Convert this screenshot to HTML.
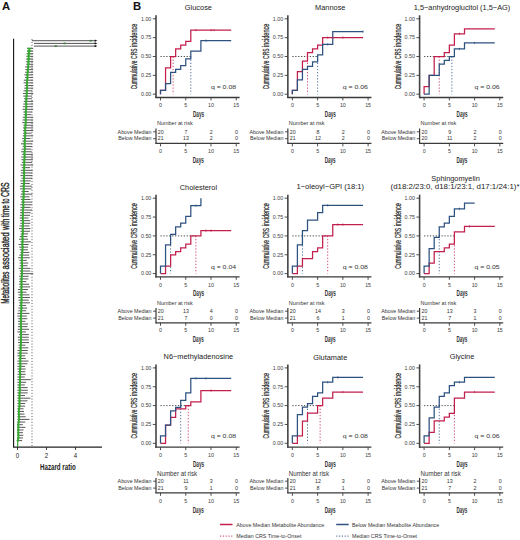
<!DOCTYPE html><html><head><meta charset="utf-8"><style>html,body{margin:0;padding:0;background:#fff;}svg{display:block;}text{font-family:"Liberation Sans", sans-serif;}</style></head><body>
<svg width="520" height="540" viewBox="0 0 520 540">
<rect width="520" height="540" fill="#fff"/>
<text x="1.90" y="9.90" font-size="11.3" text-anchor="start" fill="#111" font-weight="bold">A</text>
<text x="133.00" y="9.90" font-size="11.3" text-anchor="start" fill="#111" font-weight="bold">B</text>
<path d="M27.09,48.40H33.20M27.10,51.05H33.20M26.67,53.70H33.20M26.27,56.35H33.20M26.04,59.00H33.20M26.13,61.65H33.20M26.19,64.30H33.20M25.08,66.95H33.20M25.29,69.60H33.20M25.19,72.25H33.20M24.38,74.90H33.20M25.00,77.55H33.20M23.78,80.20H33.13M23.62,82.85H33.20M24.66,85.50H33.20M24.13,88.15H33.20M23.59,90.80H32.37M23.01,93.45H33.20M23.34,96.10H31.95M24.10,98.75H31.86M23.75,101.40H33.06M23.26,104.05H33.20M22.86,106.70H32.81M22.45,109.35H33.20M23.41,112.00H32.03M23.51,114.65H31.25M22.73,117.30H33.20M22.63,119.95H33.20M22.23,122.60H33.20M23.29,125.25H33.20M22.98,127.90H33.20M22.95,130.55H33.20M23.05,133.20H31.51M22.85,135.85H33.20M22.16,138.50H30.54M22.40,141.15H33.20M20.90,143.80H31.87M22.81,146.45H32.10M21.72,149.10H31.14M21.10,151.75H31.73M22.11,154.40H32.86M21.31,157.05H33.12M21.38,159.70H32.87M21.81,162.35H32.11M20.62,165.00H33.20M21.78,167.65H30.14M20.89,170.30H32.66M20.93,172.95H32.34M20.51,175.60H32.30M21.65,178.25H32.13M20.34,180.90H30.67M20.80,183.55H29.78M19.93,186.20H31.77M20.13,188.85H31.49M21.42,191.50H28.67M20.70,194.15H32.33M20.22,196.80H29.49M20.86,199.45H30.57M21.06,202.10H31.86M20.20,204.75H31.78M20.55,207.40H30.48M20.05,210.05H32.07M20.01,212.70H30.65M19.96,215.35H29.98M19.70,218.00H28.56M20.14,220.65H30.15M20.28,223.30H30.37M19.54,225.95H29.43M19.02,228.60H30.33M20.47,231.25H29.99M20.58,233.90H28.12M19.88,236.55H27.40M19.07,239.20H28.09M20.30,241.85H30.86M18.53,244.50H28.60M19.15,247.15H28.05M19.70,249.80H27.84M20.35,252.45H29.33M19.31,255.10H29.13M18.11,257.75H29.75M19.38,260.40H26.72M19.67,263.05H28.28M19.71,265.70H27.46M18.71,268.35H30.38M19.70,271.00H30.25M19.86,273.65H33.20M19.14,276.30H28.60M19.35,278.95H28.32M19.15,281.60H26.27M18.98,284.25H29.18M19.29,286.90H30.10M17.96,289.55H28.08M17.84,292.20H26.53M18.57,294.85H29.37M18.23,297.50H29.96M18.36,300.15H28.73M19.21,302.80H29.85M18.92,305.45H26.09M18.34,308.10H27.20M18.34,310.75H26.31M17.40,313.40H29.51M17.40,316.05H26.80M18.20,318.70H27.27M18.06,321.35H25.46M18.15,324.00H28.11M17.86,326.65H27.49M17.85,329.30H29.10M17.40,331.95H25.94M18.98,334.60H28.82M17.69,337.25H28.68M18.01,339.90H28.66M17.99,342.55H29.01M18.49,345.20H25.41M18.45,347.85H28.36M17.62,350.50H27.83M17.40,353.15H27.66M17.40,355.80H25.18M18.21,358.45H25.74M17.40,361.10H28.49M17.44,363.75H27.36M17.40,366.40H25.01M17.40,369.05H25.63M17.80,371.70H25.27M17.40,374.35H25.70M17.40,377.00H24.81M17.40,379.65H30.77M17.40,382.30H26.21M17.40,384.95H24.82M17.40,387.60H27.68M17.40,390.25H27.75M17.40,392.90H27.69M17.40,395.55H25.00M17.40,398.20H30.46M17.40,400.85H27.50M17.40,403.50H25.21M17.40,406.15H25.12M17.40,408.80H23.54M17.40,411.45H24.03M17.40,414.10H24.56M17.40,416.75H25.71M17.40,419.40H29.46M17.40,422.05H25.29M17.40,424.70H22.88M17.40,427.35H25.40M17.40,430.00H23.49M17.40,432.65H22.91M17.40,435.30H23.34M17.40,437.95H22.97M17.40,440.60H22.15" stroke="#3a3a3a" stroke-width="0.85" fill="none"/>
<line x1="32.00" y1="39" x2="32.00" y2="446" stroke="#555" stroke-width="0.9" stroke-dasharray="1.1,1.8"/>
<path d="M29.37,48.40 L29.20,51.05 L28.83,53.70 L28.67,56.35 L28.76,59.00 L28.39,61.65 L28.52,64.30 L28.06,66.95 L28.06,69.60 L27.73,72.25 L27.41,74.90 L27.51,77.55 L27.14,80.20 L26.82,82.85 L27.22,85.50 L26.95,88.15 L26.79,90.80 L26.80,93.45 L26.54,96.10 L26.31,98.75 L26.19,101.40 L26.07,104.05 L26.41,106.70 L26.04,109.35 L25.83,112.00 L25.98,114.65 L25.75,117.30 L25.74,119.95 L25.81,122.60 L25.48,125.25 L25.27,127.90 L25.14,130.55 L25.32,133.20 L25.07,135.85 L25.03,138.50 L24.87,141.15 L24.61,143.80 L24.85,146.45 L24.98,149.10 L24.49,151.75 L24.51,154.40 L24.76,157.05 L24.31,159.70 L24.27,162.35 L24.30,165.00 L24.18,167.65 L24.01,170.30 L24.11,172.95 L24.15,175.60 L23.97,178.25 L24.09,180.90 L24.11,183.55 L23.56,186.20 L23.89,188.85 L23.66,191.50 L23.65,194.15 L23.71,196.80 L23.29,199.45 L23.30,202.10 L23.25,204.75 L23.45,207.40 L22.84,210.05 L22.86,212.70 L22.89,215.35 L22.70,218.00 L23.05,220.65 L23.08,223.30 L22.79,225.95 L22.71,228.60 L22.94,231.25 L22.83,233.90 L22.31,236.55 L22.69,239.20 L22.56,241.85 L22.24,244.50 L22.65,247.15 L22.31,249.80 L22.38,252.45 L21.91,255.10 L21.88,257.75 L21.85,260.40 L21.90,263.05 L22.18,265.70 L21.98,268.35 L21.84,271.00 L22.01,273.65 L21.75,276.30 L21.58,278.95 L21.44,281.60 L21.53,284.25 L21.61,286.90 L21.28,289.55 L21.52,292.20 L21.46,294.85 L21.47,297.50 L21.63,300.15 L21.30,302.80 L21.21,305.45 L21.55,308.10 L21.17,310.75 L21.11,313.40 L21.07,316.05 L20.88,318.70 L20.97,321.35 L20.87,324.00 L20.92,326.65 L21.14,329.30 L20.90,331.95 L21.06,334.60 L21.01,337.25 L20.92,339.90 L21.04,342.55 L20.90,345.20 L20.64,347.85 L20.75,350.50 L20.31,353.15 L20.57,355.80 L20.35,358.45 L20.26,361.10 L20.31,363.75 L20.39,366.40 L20.11,369.05 L19.91,371.70 L20.26,374.35 L20.06,377.00 L19.85,379.65 L20.16,382.30 L19.74,384.95 L19.64,387.60 L19.98,390.25 L19.53,392.90 L19.60,395.55 L19.41,398.20 L19.61,400.85 L19.55,403.50 L19.52,406.15 L18.99,408.80 L18.90,411.45 L18.94,414.10 L19.07,416.75 L19.01,419.40 L18.62,422.05 L18.28,424.70 L18.36,427.35 L18.22,430.00 L18.20,432.65 L18.41,435.30 L18.37,437.95 L17.75,440.60" stroke="#3aa835" stroke-width="1.9" fill="none"/>
<rect x="27.16" y="47.70" width="4.41" height="1.4" fill="#3aa835"/>
<rect x="27.15" y="50.35" width="4.09" height="1.4" fill="#3aa835"/>
<rect x="26.94" y="53.00" width="3.78" height="1.4" fill="#3aa835"/>
<rect x="26.95" y="55.65" width="3.46" height="1.4" fill="#3aa835"/>
<rect x="27.19" y="58.30" width="3.14" height="1.4" fill="#3aa835"/>
<rect x="26.98" y="60.95" width="2.82" height="1.4" fill="#3aa835"/>
<rect x="27.27" y="63.60" width="2.50" height="1.4" fill="#3aa835"/>
<rect x="26.91" y="66.25" width="2.30" height="1.4" fill="#3aa835"/>
<rect x="26.91" y="68.90" width="2.30" height="1.4" fill="#3aa835"/>
<rect x="26.58" y="71.55" width="2.30" height="1.4" fill="#3aa835"/>
<rect x="26.26" y="74.20" width="2.30" height="1.4" fill="#3aa835"/>
<rect x="26.36" y="76.85" width="2.30" height="1.4" fill="#3aa835"/>
<rect x="25.99" y="79.50" width="2.30" height="1.4" fill="#3aa835"/>
<rect x="25.67" y="82.15" width="2.30" height="1.4" fill="#3aa835"/>
<rect x="26.07" y="84.80" width="2.30" height="1.4" fill="#3aa835"/>
<rect x="25.80" y="87.45" width="2.30" height="1.4" fill="#3aa835"/>
<rect x="25.64" y="90.10" width="2.30" height="1.4" fill="#3aa835"/>
<rect x="25.65" y="92.75" width="2.30" height="1.4" fill="#3aa835"/>
<rect x="25.39" y="95.40" width="2.30" height="1.4" fill="#3aa835"/>
<rect x="25.16" y="98.05" width="2.30" height="1.4" fill="#3aa835"/>
<rect x="25.04" y="100.70" width="2.30" height="1.4" fill="#3aa835"/>
<rect x="24.92" y="103.35" width="2.30" height="1.4" fill="#3aa835"/>
<rect x="25.26" y="106.00" width="2.30" height="1.4" fill="#3aa835"/>
<rect x="24.89" y="108.65" width="2.30" height="1.4" fill="#3aa835"/>
<rect x="24.68" y="111.30" width="2.30" height="1.4" fill="#3aa835"/>
<rect x="24.83" y="113.95" width="2.30" height="1.4" fill="#3aa835"/>
<rect x="24.60" y="116.60" width="2.30" height="1.4" fill="#3aa835"/>
<rect x="24.59" y="119.25" width="2.30" height="1.4" fill="#3aa835"/>
<rect x="24.66" y="121.90" width="2.30" height="1.4" fill="#3aa835"/>
<rect x="24.33" y="124.55" width="2.30" height="1.4" fill="#3aa835"/>
<rect x="24.12" y="127.20" width="2.30" height="1.4" fill="#3aa835"/>
<rect x="23.99" y="129.85" width="2.30" height="1.4" fill="#3aa835"/>
<rect x="24.17" y="132.50" width="2.30" height="1.4" fill="#3aa835"/>
<rect x="23.92" y="135.15" width="2.30" height="1.4" fill="#3aa835"/>
<rect x="23.88" y="137.80" width="2.30" height="1.4" fill="#3aa835"/>
<rect x="23.72" y="140.45" width="2.30" height="1.4" fill="#3aa835"/>
<rect x="23.46" y="143.10" width="2.30" height="1.4" fill="#3aa835"/>
<rect x="23.70" y="145.75" width="2.30" height="1.4" fill="#3aa835"/>
<rect x="23.83" y="148.40" width="2.30" height="1.4" fill="#3aa835"/>
<rect x="23.34" y="151.05" width="2.30" height="1.4" fill="#3aa835"/>
<rect x="23.36" y="153.70" width="2.30" height="1.4" fill="#3aa835"/>
<rect x="23.61" y="156.35" width="2.30" height="1.4" fill="#3aa835"/>
<rect x="23.16" y="159.00" width="2.30" height="1.4" fill="#3aa835"/>
<rect x="23.12" y="161.65" width="2.30" height="1.4" fill="#3aa835"/>
<rect x="23.15" y="164.30" width="2.30" height="1.4" fill="#3aa835"/>
<rect x="23.03" y="166.95" width="2.30" height="1.4" fill="#3aa835"/>
<rect x="22.86" y="169.60" width="2.30" height="1.4" fill="#3aa835"/>
<rect x="22.96" y="172.25" width="2.30" height="1.4" fill="#3aa835"/>
<rect x="23.00" y="174.90" width="2.30" height="1.4" fill="#3aa835"/>
<rect x="22.82" y="177.55" width="2.30" height="1.4" fill="#3aa835"/>
<rect x="22.94" y="180.20" width="2.30" height="1.4" fill="#3aa835"/>
<rect x="22.96" y="182.85" width="2.30" height="1.4" fill="#3aa835"/>
<rect x="22.41" y="185.50" width="2.30" height="1.4" fill="#3aa835"/>
<rect x="22.74" y="188.15" width="2.30" height="1.4" fill="#3aa835"/>
<rect x="22.51" y="190.80" width="2.30" height="1.4" fill="#3aa835"/>
<rect x="22.50" y="193.45" width="2.30" height="1.4" fill="#3aa835"/>
<rect x="22.56" y="196.10" width="2.30" height="1.4" fill="#3aa835"/>
<rect x="22.14" y="198.75" width="2.30" height="1.4" fill="#3aa835"/>
<rect x="22.15" y="201.40" width="2.30" height="1.4" fill="#3aa835"/>
<rect x="22.10" y="204.05" width="2.30" height="1.4" fill="#3aa835"/>
<rect x="22.30" y="206.70" width="2.30" height="1.4" fill="#3aa835"/>
<rect x="21.69" y="209.35" width="2.30" height="1.4" fill="#3aa835"/>
<rect x="21.71" y="212.00" width="2.30" height="1.4" fill="#3aa835"/>
<rect x="21.74" y="214.65" width="2.30" height="1.4" fill="#3aa835"/>
<rect x="21.55" y="217.30" width="2.30" height="1.4" fill="#3aa835"/>
<rect x="21.90" y="219.95" width="2.30" height="1.4" fill="#3aa835"/>
<rect x="21.93" y="222.60" width="2.30" height="1.4" fill="#3aa835"/>
<rect x="21.64" y="225.25" width="2.30" height="1.4" fill="#3aa835"/>
<rect x="21.56" y="227.90" width="2.30" height="1.4" fill="#3aa835"/>
<rect x="21.79" y="230.55" width="2.30" height="1.4" fill="#3aa835"/>
<rect x="21.68" y="233.20" width="2.30" height="1.4" fill="#3aa835"/>
<rect x="21.16" y="235.85" width="2.30" height="1.4" fill="#3aa835"/>
<rect x="21.54" y="238.50" width="2.30" height="1.4" fill="#3aa835"/>
<rect x="21.41" y="241.15" width="2.30" height="1.4" fill="#3aa835"/>
<rect x="21.09" y="243.80" width="2.30" height="1.4" fill="#3aa835"/>
<rect x="21.50" y="246.45" width="2.30" height="1.4" fill="#3aa835"/>
<rect x="21.16" y="249.10" width="2.30" height="1.4" fill="#3aa835"/>
<rect x="21.23" y="251.75" width="2.30" height="1.4" fill="#3aa835"/>
<rect x="20.76" y="254.40" width="2.30" height="1.4" fill="#3aa835"/>
<rect x="20.73" y="257.05" width="2.30" height="1.4" fill="#3aa835"/>
<rect x="20.70" y="259.70" width="2.30" height="1.4" fill="#3aa835"/>
<rect x="20.75" y="262.35" width="2.30" height="1.4" fill="#3aa835"/>
<rect x="21.03" y="265.00" width="2.30" height="1.4" fill="#3aa835"/>
<rect x="20.83" y="267.65" width="2.30" height="1.4" fill="#3aa835"/>
<rect x="20.69" y="270.30" width="2.30" height="1.4" fill="#3aa835"/>
<rect x="20.86" y="272.95" width="2.30" height="1.4" fill="#3aa835"/>
<rect x="20.60" y="275.60" width="2.30" height="1.4" fill="#3aa835"/>
<rect x="20.43" y="278.25" width="2.30" height="1.4" fill="#3aa835"/>
<rect x="20.29" y="280.90" width="2.30" height="1.4" fill="#3aa835"/>
<rect x="20.38" y="283.55" width="2.30" height="1.4" fill="#3aa835"/>
<rect x="20.46" y="286.20" width="2.30" height="1.4" fill="#3aa835"/>
<rect x="20.13" y="288.85" width="2.30" height="1.4" fill="#3aa835"/>
<rect x="20.37" y="291.50" width="2.30" height="1.4" fill="#3aa835"/>
<rect x="20.31" y="294.15" width="2.30" height="1.4" fill="#3aa835"/>
<rect x="20.32" y="296.80" width="2.30" height="1.4" fill="#3aa835"/>
<rect x="20.48" y="299.45" width="2.30" height="1.4" fill="#3aa835"/>
<rect x="20.15" y="302.10" width="2.30" height="1.4" fill="#3aa835"/>
<rect x="20.06" y="304.75" width="2.30" height="1.4" fill="#3aa835"/>
<rect x="20.40" y="307.40" width="2.30" height="1.4" fill="#3aa835"/>
<rect x="20.02" y="310.05" width="2.30" height="1.4" fill="#3aa835"/>
<rect x="19.96" y="312.70" width="2.30" height="1.4" fill="#3aa835"/>
<rect x="19.92" y="315.35" width="2.30" height="1.4" fill="#3aa835"/>
<rect x="19.73" y="318.00" width="2.30" height="1.4" fill="#3aa835"/>
<rect x="19.82" y="320.65" width="2.30" height="1.4" fill="#3aa835"/>
<rect x="19.72" y="323.30" width="2.30" height="1.4" fill="#3aa835"/>
<rect x="19.77" y="325.95" width="2.30" height="1.4" fill="#3aa835"/>
<rect x="19.99" y="328.60" width="2.30" height="1.4" fill="#3aa835"/>
<rect x="19.75" y="331.25" width="2.30" height="1.4" fill="#3aa835"/>
<rect x="19.91" y="333.90" width="2.30" height="1.4" fill="#3aa835"/>
<rect x="19.86" y="336.55" width="2.30" height="1.4" fill="#3aa835"/>
<rect x="19.77" y="339.20" width="2.30" height="1.4" fill="#3aa835"/>
<rect x="19.89" y="341.85" width="2.30" height="1.4" fill="#3aa835"/>
<rect x="19.75" y="344.50" width="2.30" height="1.4" fill="#3aa835"/>
<rect x="19.49" y="347.15" width="2.30" height="1.4" fill="#3aa835"/>
<rect x="19.60" y="349.80" width="2.30" height="1.4" fill="#3aa835"/>
<rect x="19.16" y="352.45" width="2.30" height="1.4" fill="#3aa835"/>
<rect x="19.42" y="355.10" width="2.30" height="1.4" fill="#3aa835"/>
<rect x="19.20" y="357.75" width="2.30" height="1.4" fill="#3aa835"/>
<rect x="19.11" y="360.40" width="2.30" height="1.4" fill="#3aa835"/>
<rect x="19.16" y="363.05" width="2.30" height="1.4" fill="#3aa835"/>
<rect x="19.24" y="365.70" width="2.30" height="1.4" fill="#3aa835"/>
<rect x="18.96" y="368.35" width="2.30" height="1.4" fill="#3aa835"/>
<rect x="18.76" y="371.00" width="2.30" height="1.4" fill="#3aa835"/>
<rect x="19.11" y="373.65" width="2.30" height="1.4" fill="#3aa835"/>
<rect x="18.91" y="376.30" width="2.30" height="1.4" fill="#3aa835"/>
<rect x="18.70" y="378.95" width="2.30" height="1.4" fill="#3aa835"/>
<rect x="19.01" y="381.60" width="2.30" height="1.4" fill="#3aa835"/>
<rect x="18.59" y="384.25" width="2.30" height="1.4" fill="#3aa835"/>
<rect x="18.49" y="386.90" width="2.30" height="1.4" fill="#3aa835"/>
<rect x="18.83" y="389.55" width="2.30" height="1.4" fill="#3aa835"/>
<rect x="18.38" y="392.20" width="2.30" height="1.4" fill="#3aa835"/>
<rect x="18.45" y="394.85" width="2.30" height="1.4" fill="#3aa835"/>
<rect x="18.26" y="397.50" width="2.30" height="1.4" fill="#3aa835"/>
<rect x="18.46" y="400.15" width="2.30" height="1.4" fill="#3aa835"/>
<rect x="18.40" y="402.80" width="2.30" height="1.4" fill="#3aa835"/>
<rect x="18.37" y="405.45" width="2.30" height="1.4" fill="#3aa835"/>
<rect x="17.84" y="408.10" width="2.30" height="1.4" fill="#3aa835"/>
<rect x="17.75" y="410.75" width="2.30" height="1.4" fill="#3aa835"/>
<rect x="17.79" y="413.40" width="2.30" height="1.4" fill="#3aa835"/>
<rect x="17.92" y="416.05" width="2.30" height="1.4" fill="#3aa835"/>
<rect x="17.86" y="418.70" width="2.30" height="1.4" fill="#3aa835"/>
<rect x="17.47" y="421.35" width="2.30" height="1.4" fill="#3aa835"/>
<rect x="17.13" y="424.00" width="2.30" height="1.4" fill="#3aa835"/>
<rect x="17.21" y="426.65" width="2.30" height="1.4" fill="#3aa835"/>
<rect x="17.07" y="429.30" width="2.30" height="1.4" fill="#3aa835"/>
<rect x="17.05" y="431.95" width="2.30" height="1.4" fill="#3aa835"/>
<rect x="17.26" y="434.60" width="2.30" height="1.4" fill="#3aa835"/>
<rect x="17.22" y="437.25" width="2.30" height="1.4" fill="#3aa835"/>
<rect x="16.60" y="439.90" width="2.30" height="1.4" fill="#3aa835"/>
<line x1="17.75" y1="440.60" x2="17.6" y2="446.5" stroke="#3aa835" stroke-width="1.3"/>
<line x1="31.9" y1="40.7" x2="96" y2="40.7" stroke="#555" stroke-width="1.0"/>
<path d="M94.6,39.60L97.4,40.70L94.6,41.80Z" fill="#111"/>
<rect x="89.60" y="39.90" width="2.2" height="1.6" fill="#3d7a3d"/>
<line x1="34.0" y1="43.4" x2="96" y2="43.4" stroke="#555" stroke-width="1.0"/>
<path d="M94.6,42.30L97.4,43.40L94.6,44.50Z" fill="#111"/>
<rect x="63.60" y="42.60" width="2.2" height="1.6" fill="#3d7a3d"/>
<line x1="34.0" y1="46.1" x2="96" y2="46.1" stroke="#555" stroke-width="1.0"/>
<path d="M94.6,45.00L97.4,46.10L94.6,47.20Z" fill="#111"/>
<rect x="54.70" y="45.30" width="2.2" height="1.6" fill="#3d7a3d"/>
<line x1="13.6" y1="38.8" x2="13.6" y2="447.2" stroke="#111" stroke-width="1.1"/>
<line x1="13.1" y1="447.1" x2="102" y2="447.1" stroke="#222" stroke-width="1.2"/>
<line x1="17.50" y1="447.1" x2="17.50" y2="449.9" stroke="#222" stroke-width="0.9"/>
<text x="17.50" y="458.40" font-size="7.4" text-anchor="middle" fill="#222" textLength="3.4" lengthAdjust="spacingAndGlyphs">0</text>
<line x1="46.50" y1="447.1" x2="46.50" y2="449.9" stroke="#222" stroke-width="0.9"/>
<text x="46.50" y="458.40" font-size="7.4" text-anchor="middle" fill="#222" textLength="3.4" lengthAdjust="spacingAndGlyphs">2</text>
<line x1="75.50" y1="447.1" x2="75.50" y2="449.9" stroke="#222" stroke-width="0.9"/>
<text x="75.50" y="458.40" font-size="7.4" text-anchor="middle" fill="#222" textLength="3.4" lengthAdjust="spacingAndGlyphs">4</text>
<text x="57.90" y="469.90" font-size="9.8" text-anchor="middle" fill="#222" font-weight="bold" textLength="35.8" lengthAdjust="spacingAndGlyphs">Hazard ratio</text>
<text transform="translate(8.9,303.70) rotate(-90)" x="0" y="0" font-size="11" fill="#222" stroke="#222" stroke-width="0.35" textLength="32.10" lengthAdjust="spacingAndGlyphs">Metabolites</text>
<text transform="translate(8.9,269.40) rotate(-90)" x="0" y="0" font-size="11" fill="#222" stroke="#222" stroke-width="0.35" textLength="37.10" lengthAdjust="spacingAndGlyphs">associated</text>
<text transform="translate(8.9,230.10) rotate(-90)" x="0" y="0" font-size="11" fill="#222" stroke="#222" stroke-width="0.35" textLength="11.40" lengthAdjust="spacingAndGlyphs">with</text>
<text transform="translate(8.9,217.20) rotate(-90)" x="0" y="0" font-size="11" fill="#222" stroke="#222" stroke-width="0.35" textLength="12.10" lengthAdjust="spacingAndGlyphs">time</text>
<text transform="translate(8.9,203.50) rotate(-90)" x="0" y="0" font-size="11" fill="#222" stroke="#222" stroke-width="0.35" textLength="4.90" lengthAdjust="spacingAndGlyphs">to</text>
<text transform="translate(8.9,197.10) rotate(-90)" x="0" y="0" font-size="11" fill="#222" stroke="#222" stroke-width="0.35" textLength="14.70" lengthAdjust="spacingAndGlyphs">CRS</text>
<text x="198.40" y="10.00" font-size="7.4" text-anchor="middle" fill="#222" >Glucose</text>
<line x1="156.00" y1="15.30" x2="156.00" y2="98.10" stroke="#444" stroke-width="1.6"/>
<line x1="155.40" y1="97.50" x2="239.60" y2="97.50" stroke="#3a3a3a" stroke-width="1.3"/>
<line x1="152.80" y1="18.80" x2="156.00" y2="18.80" stroke="#3a3a3a" stroke-width="0.9"/>
<text x="151.30" y="20.60" font-size="5.8" text-anchor="end" fill="#3c3c3c" textLength="10.31" lengthAdjust="spacingAndGlyphs">1.00</text>
<line x1="152.80" y1="37.65" x2="156.00" y2="37.65" stroke="#3a3a3a" stroke-width="0.9"/>
<text x="151.30" y="39.45" font-size="5.8" text-anchor="end" fill="#3c3c3c" textLength="10.31" lengthAdjust="spacingAndGlyphs">0.75</text>
<line x1="152.80" y1="56.50" x2="156.00" y2="56.50" stroke="#3a3a3a" stroke-width="0.9"/>
<text x="151.30" y="58.30" font-size="5.8" text-anchor="end" fill="#3c3c3c" textLength="10.31" lengthAdjust="spacingAndGlyphs">0.50</text>
<line x1="152.80" y1="75.35" x2="156.00" y2="75.35" stroke="#3a3a3a" stroke-width="0.9"/>
<text x="151.30" y="77.15" font-size="5.8" text-anchor="end" fill="#3c3c3c" textLength="10.31" lengthAdjust="spacingAndGlyphs">0.25</text>
<line x1="152.80" y1="94.20" x2="156.00" y2="94.20" stroke="#3a3a3a" stroke-width="0.9"/>
<text x="151.30" y="96.00" font-size="5.8" text-anchor="end" fill="#3c3c3c" textLength="10.31" lengthAdjust="spacingAndGlyphs">0.00</text>
<line x1="160.50" y1="97.50" x2="160.50" y2="100.40" stroke="#3a3a3a" stroke-width="0.9"/>
<text x="160.50" y="107.20" font-size="5.8" text-anchor="middle" fill="#3c3c3c" textLength="2.95" lengthAdjust="spacingAndGlyphs">0</text>
<line x1="185.75" y1="97.50" x2="185.75" y2="100.40" stroke="#3a3a3a" stroke-width="0.9"/>
<text x="185.75" y="107.20" font-size="5.8" text-anchor="middle" fill="#3c3c3c" textLength="2.95" lengthAdjust="spacingAndGlyphs">5</text>
<line x1="211.00" y1="97.50" x2="211.00" y2="100.40" stroke="#3a3a3a" stroke-width="0.9"/>
<text x="211.00" y="107.20" font-size="5.8" text-anchor="middle" fill="#3c3c3c" textLength="5.89" lengthAdjust="spacingAndGlyphs">10</text>
<line x1="236.25" y1="97.50" x2="236.25" y2="100.40" stroke="#3a3a3a" stroke-width="0.9"/>
<text x="236.25" y="107.20" font-size="5.8" text-anchor="middle" fill="#3c3c3c" textLength="5.89" lengthAdjust="spacingAndGlyphs">15</text>
<text x="198.50" y="116.90" font-size="8.2" text-anchor="middle" fill="#333" font-weight="bold" textLength="11.2" lengthAdjust="spacingAndGlyphs">Days</text>
<text transform="translate(137.00,89.30) rotate(-90)" x="0" y="0" font-size="8.7" fill="#333" stroke="#333" stroke-width="0.3" textLength="28.80" lengthAdjust="spacingAndGlyphs">Cummulative</text>
<text transform="translate(137.00,58.90) rotate(-90)" x="0" y="0" font-size="8.7" fill="#333" stroke="#333" stroke-width="0.3" textLength="10.40" lengthAdjust="spacingAndGlyphs">CRS</text>
<text transform="translate(137.00,46.90) rotate(-90)" x="0" y="0" font-size="8.7" fill="#333" stroke="#333" stroke-width="0.3" textLength="23.10" lengthAdjust="spacingAndGlyphs">incidence</text>
<line x1="160.50" y1="56.50" x2="190.80" y2="56.50" stroke="#222" stroke-width="0.8" stroke-dasharray="1.3,1.6"/>
<line x1="173.12" y1="56.50" x2="173.12" y2="94.20" stroke="#c21f4c" stroke-width="0.8" stroke-dasharray="1.3,1.8"/>
<line x1="190.80" y1="56.50" x2="190.80" y2="94.20" stroke="#2e5280" stroke-width="0.8" stroke-dasharray="1.3,1.8"/>
<path d="M160.50,94.20V90.43H165.55V67.81H170.60V56.50H175.65V48.96H180.70V45.19H185.75V41.42H190.80V30.11H231.20" stroke="#c21f4c" stroke-width="1.25" fill="none"/>
<path d="M160.50,94.20V90.43H165.55V83.64H170.60V72.33H175.65V69.32H180.70V65.55H185.75V58.76H190.80V51.22H200.90V40.67H231.20" stroke="#2e5280" stroke-width="1.25" fill="none"/>
<line x1="195.85" y1="29.01" x2="195.85" y2="31.21" stroke="#c21f4c" stroke-width="0.8"/>
<line x1="211.00" y1="29.01" x2="211.00" y2="31.21" stroke="#c21f4c" stroke-width="0.8"/>
<line x1="214.03" y1="29.01" x2="214.03" y2="31.21" stroke="#c21f4c" stroke-width="0.8"/>
<line x1="205.95" y1="39.57" x2="205.95" y2="41.77" stroke="#2e5280" stroke-width="0.8"/>
<text x="210.90" y="89.30" font-size="6.2" text-anchor="start" fill="#333" textLength="25.2" lengthAdjust="spacingAndGlyphs">q = 0.08</text>
<text x="157.00" y="125.20" font-size="6.2" text-anchor="start" fill="#333" textLength="35.63" lengthAdjust="spacingAndGlyphs">Number at risk</text>
<text x="151.50" y="133.50" font-size="5.8" text-anchor="end" fill="#333" textLength="33.88" lengthAdjust="spacingAndGlyphs">Above Median</text>
<text x="151.50" y="140.40" font-size="5.8" text-anchor="end" fill="#333" textLength="33.29" lengthAdjust="spacingAndGlyphs">Below Median</text>
<line x1="156.00" y1="128.60" x2="156.00" y2="143.80" stroke="#3a3a3a" stroke-width="1.2"/>
<line x1="155.40" y1="143.40" x2="239.60" y2="143.40" stroke="#3a3a3a" stroke-width="1.2"/>
<line x1="153.20" y1="131.80" x2="156.00" y2="131.80" stroke="#3a3a3a" stroke-width="0.9"/>
<line x1="153.20" y1="138.70" x2="156.00" y2="138.70" stroke="#3a3a3a" stroke-width="0.9"/>
<text x="160.80" y="133.50" font-size="5.8" text-anchor="middle" fill="#333" textLength="5.89" lengthAdjust="spacingAndGlyphs">20</text>
<text x="160.80" y="140.40" font-size="5.8" text-anchor="middle" fill="#333" textLength="5.89" lengthAdjust="spacingAndGlyphs">21</text>
<line x1="160.50" y1="143.40" x2="160.50" y2="146.40" stroke="#3a3a3a" stroke-width="0.9"/>
<text x="160.50" y="153.00" font-size="5.8" text-anchor="middle" fill="#3c3c3c" textLength="2.95" lengthAdjust="spacingAndGlyphs">0</text>
<text x="186.05" y="133.50" font-size="5.8" text-anchor="middle" fill="#333" textLength="2.95" lengthAdjust="spacingAndGlyphs">7</text>
<text x="186.05" y="140.40" font-size="5.8" text-anchor="middle" fill="#333" textLength="5.89" lengthAdjust="spacingAndGlyphs">13</text>
<line x1="185.75" y1="143.40" x2="185.75" y2="146.40" stroke="#3a3a3a" stroke-width="0.9"/>
<text x="185.75" y="153.00" font-size="5.8" text-anchor="middle" fill="#3c3c3c" textLength="2.95" lengthAdjust="spacingAndGlyphs">5</text>
<text x="211.30" y="133.50" font-size="5.8" text-anchor="middle" fill="#333" textLength="2.95" lengthAdjust="spacingAndGlyphs">2</text>
<text x="211.30" y="140.40" font-size="5.8" text-anchor="middle" fill="#333" textLength="2.95" lengthAdjust="spacingAndGlyphs">2</text>
<line x1="211.00" y1="143.40" x2="211.00" y2="146.40" stroke="#3a3a3a" stroke-width="0.9"/>
<text x="211.00" y="153.00" font-size="5.8" text-anchor="middle" fill="#3c3c3c" textLength="5.89" lengthAdjust="spacingAndGlyphs">10</text>
<text x="236.55" y="133.50" font-size="5.8" text-anchor="middle" fill="#333" textLength="2.95" lengthAdjust="spacingAndGlyphs">0</text>
<text x="236.55" y="140.40" font-size="5.8" text-anchor="middle" fill="#333" textLength="2.95" lengthAdjust="spacingAndGlyphs">0</text>
<line x1="236.25" y1="143.40" x2="236.25" y2="146.40" stroke="#3a3a3a" stroke-width="0.9"/>
<text x="236.25" y="153.00" font-size="5.8" text-anchor="middle" fill="#3c3c3c" textLength="5.89" lengthAdjust="spacingAndGlyphs">15</text>
<text x="198.30" y="162.50" font-size="8.2" text-anchor="middle" fill="#333" font-weight="bold" textLength="11.0" lengthAdjust="spacingAndGlyphs">Days</text>
<text x="330.25" y="10.00" font-size="7.4" text-anchor="middle" fill="#222" >Mannose</text>
<line x1="287.85" y1="15.30" x2="287.85" y2="98.10" stroke="#444" stroke-width="1.6"/>
<line x1="287.25" y1="97.50" x2="371.45" y2="97.50" stroke="#3a3a3a" stroke-width="1.3"/>
<line x1="284.65" y1="18.80" x2="287.85" y2="18.80" stroke="#3a3a3a" stroke-width="0.9"/>
<text x="283.15" y="20.60" font-size="5.8" text-anchor="end" fill="#3c3c3c" textLength="10.31" lengthAdjust="spacingAndGlyphs">1.00</text>
<line x1="284.65" y1="37.65" x2="287.85" y2="37.65" stroke="#3a3a3a" stroke-width="0.9"/>
<text x="283.15" y="39.45" font-size="5.8" text-anchor="end" fill="#3c3c3c" textLength="10.31" lengthAdjust="spacingAndGlyphs">0.75</text>
<line x1="284.65" y1="56.50" x2="287.85" y2="56.50" stroke="#3a3a3a" stroke-width="0.9"/>
<text x="283.15" y="58.30" font-size="5.8" text-anchor="end" fill="#3c3c3c" textLength="10.31" lengthAdjust="spacingAndGlyphs">0.50</text>
<line x1="284.65" y1="75.35" x2="287.85" y2="75.35" stroke="#3a3a3a" stroke-width="0.9"/>
<text x="283.15" y="77.15" font-size="5.8" text-anchor="end" fill="#3c3c3c" textLength="10.31" lengthAdjust="spacingAndGlyphs">0.25</text>
<line x1="284.65" y1="94.20" x2="287.85" y2="94.20" stroke="#3a3a3a" stroke-width="0.9"/>
<text x="283.15" y="96.00" font-size="5.8" text-anchor="end" fill="#3c3c3c" textLength="10.31" lengthAdjust="spacingAndGlyphs">0.00</text>
<line x1="292.35" y1="97.50" x2="292.35" y2="100.40" stroke="#3a3a3a" stroke-width="0.9"/>
<text x="292.35" y="107.20" font-size="5.8" text-anchor="middle" fill="#3c3c3c" textLength="2.95" lengthAdjust="spacingAndGlyphs">0</text>
<line x1="317.60" y1="97.50" x2="317.60" y2="100.40" stroke="#3a3a3a" stroke-width="0.9"/>
<text x="317.60" y="107.20" font-size="5.8" text-anchor="middle" fill="#3c3c3c" textLength="2.95" lengthAdjust="spacingAndGlyphs">5</text>
<line x1="342.85" y1="97.50" x2="342.85" y2="100.40" stroke="#3a3a3a" stroke-width="0.9"/>
<text x="342.85" y="107.20" font-size="5.8" text-anchor="middle" fill="#3c3c3c" textLength="5.89" lengthAdjust="spacingAndGlyphs">10</text>
<line x1="368.10" y1="97.50" x2="368.10" y2="100.40" stroke="#3a3a3a" stroke-width="0.9"/>
<text x="368.10" y="107.20" font-size="5.8" text-anchor="middle" fill="#3c3c3c" textLength="5.89" lengthAdjust="spacingAndGlyphs">15</text>
<text x="330.35" y="116.90" font-size="8.2" text-anchor="middle" fill="#333" font-weight="bold" textLength="11.2" lengthAdjust="spacingAndGlyphs">Days</text>
<text transform="translate(268.85,89.30) rotate(-90)" x="0" y="0" font-size="8.7" fill="#333" stroke="#333" stroke-width="0.3" textLength="28.80" lengthAdjust="spacingAndGlyphs">Cummulative</text>
<text transform="translate(268.85,58.90) rotate(-90)" x="0" y="0" font-size="8.7" fill="#333" stroke="#333" stroke-width="0.3" textLength="10.40" lengthAdjust="spacingAndGlyphs">CRS</text>
<text transform="translate(268.85,46.90) rotate(-90)" x="0" y="0" font-size="8.7" fill="#333" stroke="#333" stroke-width="0.3" textLength="23.10" lengthAdjust="spacingAndGlyphs">incidence</text>
<line x1="292.35" y1="56.50" x2="317.60" y2="56.50" stroke="#222" stroke-width="0.8" stroke-dasharray="1.3,1.6"/>
<line x1="307.50" y1="56.50" x2="307.50" y2="94.20" stroke="#c21f4c" stroke-width="0.8" stroke-dasharray="1.3,1.8"/>
<line x1="317.60" y1="56.50" x2="317.60" y2="94.20" stroke="#2e5280" stroke-width="0.8" stroke-dasharray="1.3,1.8"/>
<path d="M292.35,94.20V90.43H297.40V71.58H302.45V61.02H307.50V52.73H312.55V48.96H317.60V45.19H322.65V37.65H363.05" stroke="#c21f4c" stroke-width="1.25" fill="none"/>
<path d="M292.35,94.20V90.43H297.40V79.87H302.45V69.32H307.50V66.30H312.55V61.78H317.60V54.99H322.65V44.44H332.75V31.62H363.05" stroke="#2e5280" stroke-width="1.25" fill="none"/>
<line x1="327.70" y1="36.55" x2="327.70" y2="38.75" stroke="#c21f4c" stroke-width="0.8"/>
<line x1="332.75" y1="36.55" x2="332.75" y2="38.75" stroke="#c21f4c" stroke-width="0.8"/>
<line x1="342.85" y1="36.55" x2="342.85" y2="38.75" stroke="#c21f4c" stroke-width="0.8"/>
<line x1="327.70" y1="43.34" x2="327.70" y2="45.54" stroke="#2e5280" stroke-width="0.8"/>
<line x1="363.05" y1="30.52" x2="363.05" y2="32.72" stroke="#2e5280" stroke-width="0.8"/>
<text x="342.75" y="89.30" font-size="6.2" text-anchor="start" fill="#333" textLength="25.2" lengthAdjust="spacingAndGlyphs">q = 0.06</text>
<text x="288.85" y="125.20" font-size="6.2" text-anchor="start" fill="#333" textLength="35.63" lengthAdjust="spacingAndGlyphs">Number at risk</text>
<text x="283.35" y="133.50" font-size="5.8" text-anchor="end" fill="#333" textLength="33.88" lengthAdjust="spacingAndGlyphs">Above Median</text>
<text x="283.35" y="140.40" font-size="5.8" text-anchor="end" fill="#333" textLength="33.29" lengthAdjust="spacingAndGlyphs">Below Median</text>
<line x1="287.85" y1="128.60" x2="287.85" y2="143.80" stroke="#3a3a3a" stroke-width="1.2"/>
<line x1="287.25" y1="143.40" x2="371.45" y2="143.40" stroke="#3a3a3a" stroke-width="1.2"/>
<line x1="285.05" y1="131.80" x2="287.85" y2="131.80" stroke="#3a3a3a" stroke-width="0.9"/>
<line x1="285.05" y1="138.70" x2="287.85" y2="138.70" stroke="#3a3a3a" stroke-width="0.9"/>
<text x="292.65" y="133.50" font-size="5.8" text-anchor="middle" fill="#333" textLength="5.89" lengthAdjust="spacingAndGlyphs">20</text>
<text x="292.65" y="140.40" font-size="5.8" text-anchor="middle" fill="#333" textLength="5.89" lengthAdjust="spacingAndGlyphs">21</text>
<line x1="292.35" y1="143.40" x2="292.35" y2="146.40" stroke="#3a3a3a" stroke-width="0.9"/>
<text x="292.35" y="153.00" font-size="5.8" text-anchor="middle" fill="#3c3c3c" textLength="2.95" lengthAdjust="spacingAndGlyphs">0</text>
<text x="317.90" y="133.50" font-size="5.8" text-anchor="middle" fill="#333" textLength="2.95" lengthAdjust="spacingAndGlyphs">8</text>
<text x="317.90" y="140.40" font-size="5.8" text-anchor="middle" fill="#333" textLength="5.89" lengthAdjust="spacingAndGlyphs">12</text>
<line x1="317.60" y1="143.40" x2="317.60" y2="146.40" stroke="#3a3a3a" stroke-width="0.9"/>
<text x="317.60" y="153.00" font-size="5.8" text-anchor="middle" fill="#3c3c3c" textLength="2.95" lengthAdjust="spacingAndGlyphs">5</text>
<text x="343.15" y="133.50" font-size="5.8" text-anchor="middle" fill="#333" textLength="2.95" lengthAdjust="spacingAndGlyphs">2</text>
<text x="343.15" y="140.40" font-size="5.8" text-anchor="middle" fill="#333" textLength="2.95" lengthAdjust="spacingAndGlyphs">2</text>
<line x1="342.85" y1="143.40" x2="342.85" y2="146.40" stroke="#3a3a3a" stroke-width="0.9"/>
<text x="342.85" y="153.00" font-size="5.8" text-anchor="middle" fill="#3c3c3c" textLength="5.89" lengthAdjust="spacingAndGlyphs">10</text>
<text x="368.40" y="133.50" font-size="5.8" text-anchor="middle" fill="#333" textLength="2.95" lengthAdjust="spacingAndGlyphs">0</text>
<text x="368.40" y="140.40" font-size="5.8" text-anchor="middle" fill="#333" textLength="2.95" lengthAdjust="spacingAndGlyphs">0</text>
<line x1="368.10" y1="143.40" x2="368.10" y2="146.40" stroke="#3a3a3a" stroke-width="0.9"/>
<text x="368.10" y="153.00" font-size="5.8" text-anchor="middle" fill="#3c3c3c" textLength="5.89" lengthAdjust="spacingAndGlyphs">15</text>
<text x="330.15" y="162.50" font-size="8.2" text-anchor="middle" fill="#333" font-weight="bold" textLength="11.0" lengthAdjust="spacingAndGlyphs">Days</text>
<text x="462.00" y="10.00" font-size="7.4" text-anchor="middle" fill="#222" >1,5−anhydroglucitol (1,5−AG)</text>
<line x1="419.60" y1="15.30" x2="419.60" y2="98.10" stroke="#444" stroke-width="1.6"/>
<line x1="419.00" y1="97.50" x2="503.20" y2="97.50" stroke="#3a3a3a" stroke-width="1.3"/>
<line x1="416.40" y1="18.80" x2="419.60" y2="18.80" stroke="#3a3a3a" stroke-width="0.9"/>
<text x="414.90" y="20.60" font-size="5.8" text-anchor="end" fill="#3c3c3c" textLength="10.31" lengthAdjust="spacingAndGlyphs">1.00</text>
<line x1="416.40" y1="37.65" x2="419.60" y2="37.65" stroke="#3a3a3a" stroke-width="0.9"/>
<text x="414.90" y="39.45" font-size="5.8" text-anchor="end" fill="#3c3c3c" textLength="10.31" lengthAdjust="spacingAndGlyphs">0.75</text>
<line x1="416.40" y1="56.50" x2="419.60" y2="56.50" stroke="#3a3a3a" stroke-width="0.9"/>
<text x="414.90" y="58.30" font-size="5.8" text-anchor="end" fill="#3c3c3c" textLength="10.31" lengthAdjust="spacingAndGlyphs">0.50</text>
<line x1="416.40" y1="75.35" x2="419.60" y2="75.35" stroke="#3a3a3a" stroke-width="0.9"/>
<text x="414.90" y="77.15" font-size="5.8" text-anchor="end" fill="#3c3c3c" textLength="10.31" lengthAdjust="spacingAndGlyphs">0.25</text>
<line x1="416.40" y1="94.20" x2="419.60" y2="94.20" stroke="#3a3a3a" stroke-width="0.9"/>
<text x="414.90" y="96.00" font-size="5.8" text-anchor="end" fill="#3c3c3c" textLength="10.31" lengthAdjust="spacingAndGlyphs">0.00</text>
<line x1="424.10" y1="97.50" x2="424.10" y2="100.40" stroke="#3a3a3a" stroke-width="0.9"/>
<text x="424.10" y="107.20" font-size="5.8" text-anchor="middle" fill="#3c3c3c" textLength="2.95" lengthAdjust="spacingAndGlyphs">0</text>
<line x1="449.35" y1="97.50" x2="449.35" y2="100.40" stroke="#3a3a3a" stroke-width="0.9"/>
<text x="449.35" y="107.20" font-size="5.8" text-anchor="middle" fill="#3c3c3c" textLength="2.95" lengthAdjust="spacingAndGlyphs">5</text>
<line x1="474.60" y1="97.50" x2="474.60" y2="100.40" stroke="#3a3a3a" stroke-width="0.9"/>
<text x="474.60" y="107.20" font-size="5.8" text-anchor="middle" fill="#3c3c3c" textLength="5.89" lengthAdjust="spacingAndGlyphs">10</text>
<line x1="499.85" y1="97.50" x2="499.85" y2="100.40" stroke="#3a3a3a" stroke-width="0.9"/>
<text x="499.85" y="107.20" font-size="5.8" text-anchor="middle" fill="#3c3c3c" textLength="5.89" lengthAdjust="spacingAndGlyphs">15</text>
<text x="462.10" y="116.90" font-size="8.2" text-anchor="middle" fill="#333" font-weight="bold" textLength="11.2" lengthAdjust="spacingAndGlyphs">Days</text>
<text transform="translate(400.60,89.30) rotate(-90)" x="0" y="0" font-size="8.7" fill="#333" stroke="#333" stroke-width="0.3" textLength="28.80" lengthAdjust="spacingAndGlyphs">Cummulative</text>
<text transform="translate(400.60,58.90) rotate(-90)" x="0" y="0" font-size="8.7" fill="#333" stroke="#333" stroke-width="0.3" textLength="10.40" lengthAdjust="spacingAndGlyphs">CRS</text>
<text transform="translate(400.60,46.90) rotate(-90)" x="0" y="0" font-size="8.7" fill="#333" stroke="#333" stroke-width="0.3" textLength="23.10" lengthAdjust="spacingAndGlyphs">incidence</text>
<line x1="424.10" y1="56.50" x2="451.88" y2="56.50" stroke="#222" stroke-width="0.8" stroke-dasharray="1.3,1.6"/>
<line x1="439.25" y1="56.50" x2="439.25" y2="94.20" stroke="#c21f4c" stroke-width="0.8" stroke-dasharray="1.3,1.8"/>
<line x1="451.88" y1="56.50" x2="451.88" y2="94.20" stroke="#2e5280" stroke-width="0.8" stroke-dasharray="1.3,1.8"/>
<path d="M424.10,94.20V86.66H429.15V75.35H434.20V56.50H444.30V52.73H449.35V45.19H454.40V33.88H464.50V28.83H494.80" stroke="#c21f4c" stroke-width="1.25" fill="none"/>
<path d="M424.10,94.20V94.20H429.15V75.35H439.25V64.04H444.30V60.27H449.35V56.50H454.40V48.96H464.50V42.93H494.80" stroke="#2e5280" stroke-width="1.25" fill="none"/>
<line x1="459.45" y1="32.78" x2="459.45" y2="34.98" stroke="#c21f4c" stroke-width="0.8"/>
<line x1="459.45" y1="47.86" x2="459.45" y2="50.06" stroke="#2e5280" stroke-width="0.8"/>
<line x1="474.60" y1="41.83" x2="474.60" y2="44.03" stroke="#2e5280" stroke-width="0.8"/>
<text x="474.50" y="89.30" font-size="6.2" text-anchor="start" fill="#333" textLength="25.2" lengthAdjust="spacingAndGlyphs">q = 0.06</text>
<text x="420.60" y="125.20" font-size="6.2" text-anchor="start" fill="#333" textLength="35.63" lengthAdjust="spacingAndGlyphs">Number at risk</text>
<text x="415.10" y="133.50" font-size="5.8" text-anchor="end" fill="#333" textLength="33.88" lengthAdjust="spacingAndGlyphs">Above Median</text>
<text x="415.10" y="140.40" font-size="5.8" text-anchor="end" fill="#333" textLength="33.29" lengthAdjust="spacingAndGlyphs">Below Median</text>
<line x1="419.60" y1="128.60" x2="419.60" y2="143.80" stroke="#3a3a3a" stroke-width="1.2"/>
<line x1="419.00" y1="143.40" x2="503.20" y2="143.40" stroke="#3a3a3a" stroke-width="1.2"/>
<line x1="416.80" y1="131.80" x2="419.60" y2="131.80" stroke="#3a3a3a" stroke-width="0.9"/>
<line x1="416.80" y1="138.70" x2="419.60" y2="138.70" stroke="#3a3a3a" stroke-width="0.9"/>
<text x="424.40" y="133.50" font-size="5.8" text-anchor="middle" fill="#333" textLength="5.89" lengthAdjust="spacingAndGlyphs">20</text>
<text x="424.40" y="140.40" font-size="5.8" text-anchor="middle" fill="#333" textLength="5.89" lengthAdjust="spacingAndGlyphs">20</text>
<line x1="424.10" y1="143.40" x2="424.10" y2="146.40" stroke="#3a3a3a" stroke-width="0.9"/>
<text x="424.10" y="153.00" font-size="5.8" text-anchor="middle" fill="#3c3c3c" textLength="2.95" lengthAdjust="spacingAndGlyphs">0</text>
<text x="449.65" y="133.50" font-size="5.8" text-anchor="middle" fill="#333" textLength="2.95" lengthAdjust="spacingAndGlyphs">9</text>
<text x="449.65" y="140.40" font-size="5.8" text-anchor="middle" fill="#333" textLength="5.50" lengthAdjust="spacingAndGlyphs">11</text>
<line x1="449.35" y1="143.40" x2="449.35" y2="146.40" stroke="#3a3a3a" stroke-width="0.9"/>
<text x="449.35" y="153.00" font-size="5.8" text-anchor="middle" fill="#3c3c3c" textLength="2.95" lengthAdjust="spacingAndGlyphs">5</text>
<text x="474.90" y="133.50" font-size="5.8" text-anchor="middle" fill="#333" textLength="2.95" lengthAdjust="spacingAndGlyphs">2</text>
<text x="474.90" y="140.40" font-size="5.8" text-anchor="middle" fill="#333" textLength="2.95" lengthAdjust="spacingAndGlyphs">2</text>
<line x1="474.60" y1="143.40" x2="474.60" y2="146.40" stroke="#3a3a3a" stroke-width="0.9"/>
<text x="474.60" y="153.00" font-size="5.8" text-anchor="middle" fill="#3c3c3c" textLength="5.89" lengthAdjust="spacingAndGlyphs">10</text>
<text x="500.15" y="133.50" font-size="5.8" text-anchor="middle" fill="#333" textLength="2.95" lengthAdjust="spacingAndGlyphs">0</text>
<text x="500.15" y="140.40" font-size="5.8" text-anchor="middle" fill="#333" textLength="2.95" lengthAdjust="spacingAndGlyphs">0</text>
<line x1="499.85" y1="143.40" x2="499.85" y2="146.40" stroke="#3a3a3a" stroke-width="0.9"/>
<text x="499.85" y="153.00" font-size="5.8" text-anchor="middle" fill="#3c3c3c" textLength="5.89" lengthAdjust="spacingAndGlyphs">15</text>
<text x="461.90" y="162.50" font-size="8.2" text-anchor="middle" fill="#333" font-weight="bold" textLength="11.0" lengthAdjust="spacingAndGlyphs">Days</text>
<text x="198.40" y="189.90" font-size="7.4" text-anchor="middle" fill="#222" >Cholesterol</text>
<line x1="156.00" y1="194.70" x2="156.00" y2="277.50" stroke="#444" stroke-width="1.6"/>
<line x1="155.40" y1="276.90" x2="239.60" y2="276.90" stroke="#3a3a3a" stroke-width="1.3"/>
<line x1="152.80" y1="198.20" x2="156.00" y2="198.20" stroke="#3a3a3a" stroke-width="0.9"/>
<text x="151.30" y="200.00" font-size="5.8" text-anchor="end" fill="#3c3c3c" textLength="10.31" lengthAdjust="spacingAndGlyphs">1.00</text>
<line x1="152.80" y1="217.05" x2="156.00" y2="217.05" stroke="#3a3a3a" stroke-width="0.9"/>
<text x="151.30" y="218.85" font-size="5.8" text-anchor="end" fill="#3c3c3c" textLength="10.31" lengthAdjust="spacingAndGlyphs">0.75</text>
<line x1="152.80" y1="235.90" x2="156.00" y2="235.90" stroke="#3a3a3a" stroke-width="0.9"/>
<text x="151.30" y="237.70" font-size="5.8" text-anchor="end" fill="#3c3c3c" textLength="10.31" lengthAdjust="spacingAndGlyphs">0.50</text>
<line x1="152.80" y1="254.75" x2="156.00" y2="254.75" stroke="#3a3a3a" stroke-width="0.9"/>
<text x="151.30" y="256.55" font-size="5.8" text-anchor="end" fill="#3c3c3c" textLength="10.31" lengthAdjust="spacingAndGlyphs">0.25</text>
<line x1="152.80" y1="273.60" x2="156.00" y2="273.60" stroke="#3a3a3a" stroke-width="0.9"/>
<text x="151.30" y="275.40" font-size="5.8" text-anchor="end" fill="#3c3c3c" textLength="10.31" lengthAdjust="spacingAndGlyphs">0.00</text>
<line x1="160.50" y1="276.90" x2="160.50" y2="279.80" stroke="#3a3a3a" stroke-width="0.9"/>
<text x="160.50" y="286.60" font-size="5.8" text-anchor="middle" fill="#3c3c3c" textLength="2.95" lengthAdjust="spacingAndGlyphs">0</text>
<line x1="185.75" y1="276.90" x2="185.75" y2="279.80" stroke="#3a3a3a" stroke-width="0.9"/>
<text x="185.75" y="286.60" font-size="5.8" text-anchor="middle" fill="#3c3c3c" textLength="2.95" lengthAdjust="spacingAndGlyphs">5</text>
<line x1="211.00" y1="276.90" x2="211.00" y2="279.80" stroke="#3a3a3a" stroke-width="0.9"/>
<text x="211.00" y="286.60" font-size="5.8" text-anchor="middle" fill="#3c3c3c" textLength="5.89" lengthAdjust="spacingAndGlyphs">10</text>
<line x1="236.25" y1="276.90" x2="236.25" y2="279.80" stroke="#3a3a3a" stroke-width="0.9"/>
<text x="236.25" y="286.60" font-size="5.8" text-anchor="middle" fill="#3c3c3c" textLength="5.89" lengthAdjust="spacingAndGlyphs">15</text>
<text x="198.50" y="296.30" font-size="8.2" text-anchor="middle" fill="#333" font-weight="bold" textLength="11.2" lengthAdjust="spacingAndGlyphs">Days</text>
<text transform="translate(137.00,268.70) rotate(-90)" x="0" y="0" font-size="8.7" fill="#333" stroke="#333" stroke-width="0.3" textLength="28.80" lengthAdjust="spacingAndGlyphs">Cummulative</text>
<text transform="translate(137.00,238.30) rotate(-90)" x="0" y="0" font-size="8.7" fill="#333" stroke="#333" stroke-width="0.3" textLength="10.40" lengthAdjust="spacingAndGlyphs">CRS</text>
<text transform="translate(137.00,226.30) rotate(-90)" x="0" y="0" font-size="8.7" fill="#333" stroke="#333" stroke-width="0.3" textLength="23.10" lengthAdjust="spacingAndGlyphs">incidence</text>
<line x1="160.50" y1="235.90" x2="195.85" y2="235.90" stroke="#222" stroke-width="0.8" stroke-dasharray="1.3,1.6"/>
<line x1="195.85" y1="235.90" x2="195.85" y2="273.60" stroke="#c21f4c" stroke-width="0.8" stroke-dasharray="1.3,1.8"/>
<line x1="170.60" y1="235.90" x2="170.60" y2="273.60" stroke="#2e5280" stroke-width="0.8" stroke-dasharray="1.3,1.8"/>
<path d="M160.50,273.60V273.60H165.55V266.06H170.60V254.75H175.65V251.73H180.70V247.96H185.75V244.19H190.80V235.90H200.90V230.62H231.20" stroke="#c21f4c" stroke-width="1.25" fill="none"/>
<path d="M160.50,273.60V266.06H165.55V244.95H170.60V234.39H175.65V226.85H180.70V223.08H185.75V216.30H190.80V205.74H200.90V198.20H200.90" stroke="#2e5280" stroke-width="1.25" fill="none"/>
<line x1="205.95" y1="229.52" x2="205.95" y2="231.72" stroke="#c21f4c" stroke-width="0.8"/>
<line x1="211.00" y1="229.52" x2="211.00" y2="231.72" stroke="#c21f4c" stroke-width="0.8"/>
<line x1="195.85" y1="204.64" x2="195.85" y2="206.84" stroke="#2e5280" stroke-width="0.8"/>
<text x="210.90" y="268.70" font-size="6.2" text-anchor="start" fill="#333" textLength="25.2" lengthAdjust="spacingAndGlyphs">q = 0.04</text>
<text x="157.00" y="304.60" font-size="6.2" text-anchor="start" fill="#333" textLength="35.63" lengthAdjust="spacingAndGlyphs">Number at risk</text>
<text x="151.50" y="312.90" font-size="5.8" text-anchor="end" fill="#333" textLength="33.88" lengthAdjust="spacingAndGlyphs">Above Median</text>
<text x="151.50" y="319.80" font-size="5.8" text-anchor="end" fill="#333" textLength="33.29" lengthAdjust="spacingAndGlyphs">Below Median</text>
<line x1="156.00" y1="308.00" x2="156.00" y2="323.20" stroke="#3a3a3a" stroke-width="1.2"/>
<line x1="155.40" y1="322.80" x2="239.60" y2="322.80" stroke="#3a3a3a" stroke-width="1.2"/>
<line x1="153.20" y1="311.20" x2="156.00" y2="311.20" stroke="#3a3a3a" stroke-width="0.9"/>
<line x1="153.20" y1="318.10" x2="156.00" y2="318.10" stroke="#3a3a3a" stroke-width="0.9"/>
<text x="160.80" y="312.90" font-size="5.8" text-anchor="middle" fill="#333" textLength="5.89" lengthAdjust="spacingAndGlyphs">20</text>
<text x="160.80" y="319.80" font-size="5.8" text-anchor="middle" fill="#333" textLength="5.89" lengthAdjust="spacingAndGlyphs">21</text>
<line x1="160.50" y1="322.80" x2="160.50" y2="325.80" stroke="#3a3a3a" stroke-width="0.9"/>
<text x="160.50" y="332.40" font-size="5.8" text-anchor="middle" fill="#3c3c3c" textLength="2.95" lengthAdjust="spacingAndGlyphs">0</text>
<text x="186.05" y="312.90" font-size="5.8" text-anchor="middle" fill="#333" textLength="5.89" lengthAdjust="spacingAndGlyphs">13</text>
<text x="186.05" y="319.80" font-size="5.8" text-anchor="middle" fill="#333" textLength="2.95" lengthAdjust="spacingAndGlyphs">7</text>
<line x1="185.75" y1="322.80" x2="185.75" y2="325.80" stroke="#3a3a3a" stroke-width="0.9"/>
<text x="185.75" y="332.40" font-size="5.8" text-anchor="middle" fill="#3c3c3c" textLength="2.95" lengthAdjust="spacingAndGlyphs">5</text>
<text x="211.30" y="312.90" font-size="5.8" text-anchor="middle" fill="#333" textLength="2.95" lengthAdjust="spacingAndGlyphs">4</text>
<text x="211.30" y="319.80" font-size="5.8" text-anchor="middle" fill="#333" textLength="2.95" lengthAdjust="spacingAndGlyphs">0</text>
<line x1="211.00" y1="322.80" x2="211.00" y2="325.80" stroke="#3a3a3a" stroke-width="0.9"/>
<text x="211.00" y="332.40" font-size="5.8" text-anchor="middle" fill="#3c3c3c" textLength="5.89" lengthAdjust="spacingAndGlyphs">10</text>
<text x="236.55" y="312.90" font-size="5.8" text-anchor="middle" fill="#333" textLength="2.95" lengthAdjust="spacingAndGlyphs">0</text>
<text x="236.55" y="319.80" font-size="5.8" text-anchor="middle" fill="#333" textLength="2.95" lengthAdjust="spacingAndGlyphs">0</text>
<line x1="236.25" y1="322.80" x2="236.25" y2="325.80" stroke="#3a3a3a" stroke-width="0.9"/>
<text x="236.25" y="332.40" font-size="5.8" text-anchor="middle" fill="#3c3c3c" textLength="5.89" lengthAdjust="spacingAndGlyphs">15</text>
<text x="198.30" y="341.90" font-size="8.2" text-anchor="middle" fill="#333" font-weight="bold" textLength="11.0" lengthAdjust="spacingAndGlyphs">Days</text>
<text x="330.25" y="189.40" font-size="7.4" text-anchor="middle" fill="#222" textLength="67.7" lengthAdjust="spacingAndGlyphs">1−oleoyl−GPI (18:1)</text>
<line x1="287.85" y1="194.70" x2="287.85" y2="277.50" stroke="#444" stroke-width="1.6"/>
<line x1="287.25" y1="276.90" x2="371.45" y2="276.90" stroke="#3a3a3a" stroke-width="1.3"/>
<line x1="284.65" y1="198.20" x2="287.85" y2="198.20" stroke="#3a3a3a" stroke-width="0.9"/>
<text x="283.15" y="200.00" font-size="5.8" text-anchor="end" fill="#3c3c3c" textLength="10.31" lengthAdjust="spacingAndGlyphs">1.00</text>
<line x1="284.65" y1="217.05" x2="287.85" y2="217.05" stroke="#3a3a3a" stroke-width="0.9"/>
<text x="283.15" y="218.85" font-size="5.8" text-anchor="end" fill="#3c3c3c" textLength="10.31" lengthAdjust="spacingAndGlyphs">0.75</text>
<line x1="284.65" y1="235.90" x2="287.85" y2="235.90" stroke="#3a3a3a" stroke-width="0.9"/>
<text x="283.15" y="237.70" font-size="5.8" text-anchor="end" fill="#3c3c3c" textLength="10.31" lengthAdjust="spacingAndGlyphs">0.50</text>
<line x1="284.65" y1="254.75" x2="287.85" y2="254.75" stroke="#3a3a3a" stroke-width="0.9"/>
<text x="283.15" y="256.55" font-size="5.8" text-anchor="end" fill="#3c3c3c" textLength="10.31" lengthAdjust="spacingAndGlyphs">0.25</text>
<line x1="284.65" y1="273.60" x2="287.85" y2="273.60" stroke="#3a3a3a" stroke-width="0.9"/>
<text x="283.15" y="275.40" font-size="5.8" text-anchor="end" fill="#3c3c3c" textLength="10.31" lengthAdjust="spacingAndGlyphs">0.00</text>
<line x1="292.35" y1="276.90" x2="292.35" y2="279.80" stroke="#3a3a3a" stroke-width="0.9"/>
<text x="292.35" y="286.60" font-size="5.8" text-anchor="middle" fill="#3c3c3c" textLength="2.95" lengthAdjust="spacingAndGlyphs">0</text>
<line x1="317.60" y1="276.90" x2="317.60" y2="279.80" stroke="#3a3a3a" stroke-width="0.9"/>
<text x="317.60" y="286.60" font-size="5.8" text-anchor="middle" fill="#3c3c3c" textLength="2.95" lengthAdjust="spacingAndGlyphs">5</text>
<line x1="342.85" y1="276.90" x2="342.85" y2="279.80" stroke="#3a3a3a" stroke-width="0.9"/>
<text x="342.85" y="286.60" font-size="5.8" text-anchor="middle" fill="#3c3c3c" textLength="5.89" lengthAdjust="spacingAndGlyphs">10</text>
<line x1="368.10" y1="276.90" x2="368.10" y2="279.80" stroke="#3a3a3a" stroke-width="0.9"/>
<text x="368.10" y="286.60" font-size="5.8" text-anchor="middle" fill="#3c3c3c" textLength="5.89" lengthAdjust="spacingAndGlyphs">15</text>
<text x="330.35" y="296.30" font-size="8.2" text-anchor="middle" fill="#333" font-weight="bold" textLength="11.2" lengthAdjust="spacingAndGlyphs">Days</text>
<text transform="translate(268.85,268.70) rotate(-90)" x="0" y="0" font-size="8.7" fill="#333" stroke="#333" stroke-width="0.3" textLength="28.80" lengthAdjust="spacingAndGlyphs">Cummulative</text>
<text transform="translate(268.85,238.30) rotate(-90)" x="0" y="0" font-size="8.7" fill="#333" stroke="#333" stroke-width="0.3" textLength="10.40" lengthAdjust="spacingAndGlyphs">CRS</text>
<text transform="translate(268.85,226.30) rotate(-90)" x="0" y="0" font-size="8.7" fill="#333" stroke="#333" stroke-width="0.3" textLength="23.10" lengthAdjust="spacingAndGlyphs">incidence</text>
<line x1="292.35" y1="235.90" x2="327.70" y2="235.90" stroke="#222" stroke-width="0.8" stroke-dasharray="1.3,1.6"/>
<line x1="327.70" y1="235.90" x2="327.70" y2="273.60" stroke="#c21f4c" stroke-width="0.8" stroke-dasharray="1.3,1.8"/>
<line x1="302.45" y1="235.90" x2="302.45" y2="273.60" stroke="#2e5280" stroke-width="0.8" stroke-dasharray="1.3,1.8"/>
<path d="M292.35,273.60V273.60H297.40V266.06H302.45V258.52H312.55V251.73H317.60V247.96H322.65V235.90H332.75V224.59H363.05" stroke="#c21f4c" stroke-width="1.25" fill="none"/>
<path d="M292.35,273.60V266.06H297.40V244.95H302.45V230.62H307.50V220.07H317.60V212.53H322.65V205.36H363.05" stroke="#2e5280" stroke-width="1.25" fill="none"/>
<line x1="337.80" y1="223.49" x2="337.80" y2="225.69" stroke="#c21f4c" stroke-width="0.8"/>
<line x1="342.85" y1="223.49" x2="342.85" y2="225.69" stroke="#c21f4c" stroke-width="0.8"/>
<line x1="327.70" y1="204.26" x2="327.70" y2="206.46" stroke="#2e5280" stroke-width="0.8"/>
<text x="342.75" y="268.70" font-size="6.2" text-anchor="start" fill="#333" textLength="25.2" lengthAdjust="spacingAndGlyphs">q = 0.08</text>
<text x="288.85" y="304.60" font-size="6.2" text-anchor="start" fill="#333" textLength="35.63" lengthAdjust="spacingAndGlyphs">Number at risk</text>
<text x="283.35" y="312.90" font-size="5.8" text-anchor="end" fill="#333" textLength="33.88" lengthAdjust="spacingAndGlyphs">Above Median</text>
<text x="283.35" y="319.80" font-size="5.8" text-anchor="end" fill="#333" textLength="33.29" lengthAdjust="spacingAndGlyphs">Below Median</text>
<line x1="287.85" y1="308.00" x2="287.85" y2="323.20" stroke="#3a3a3a" stroke-width="1.2"/>
<line x1="287.25" y1="322.80" x2="371.45" y2="322.80" stroke="#3a3a3a" stroke-width="1.2"/>
<line x1="285.05" y1="311.20" x2="287.85" y2="311.20" stroke="#3a3a3a" stroke-width="0.9"/>
<line x1="285.05" y1="318.10" x2="287.85" y2="318.10" stroke="#3a3a3a" stroke-width="0.9"/>
<text x="292.65" y="312.90" font-size="5.8" text-anchor="middle" fill="#333" textLength="5.89" lengthAdjust="spacingAndGlyphs">20</text>
<text x="292.65" y="319.80" font-size="5.8" text-anchor="middle" fill="#333" textLength="5.89" lengthAdjust="spacingAndGlyphs">21</text>
<line x1="292.35" y1="322.80" x2="292.35" y2="325.80" stroke="#3a3a3a" stroke-width="0.9"/>
<text x="292.35" y="332.40" font-size="5.8" text-anchor="middle" fill="#3c3c3c" textLength="2.95" lengthAdjust="spacingAndGlyphs">0</text>
<text x="317.90" y="312.90" font-size="5.8" text-anchor="middle" fill="#333" textLength="5.89" lengthAdjust="spacingAndGlyphs">14</text>
<text x="317.90" y="319.80" font-size="5.8" text-anchor="middle" fill="#333" textLength="2.95" lengthAdjust="spacingAndGlyphs">6</text>
<line x1="317.60" y1="322.80" x2="317.60" y2="325.80" stroke="#3a3a3a" stroke-width="0.9"/>
<text x="317.60" y="332.40" font-size="5.8" text-anchor="middle" fill="#3c3c3c" textLength="2.95" lengthAdjust="spacingAndGlyphs">5</text>
<text x="343.15" y="312.90" font-size="5.8" text-anchor="middle" fill="#333" textLength="2.95" lengthAdjust="spacingAndGlyphs">3</text>
<text x="343.15" y="319.80" font-size="5.8" text-anchor="middle" fill="#333" textLength="2.95" lengthAdjust="spacingAndGlyphs">1</text>
<line x1="342.85" y1="322.80" x2="342.85" y2="325.80" stroke="#3a3a3a" stroke-width="0.9"/>
<text x="342.85" y="332.40" font-size="5.8" text-anchor="middle" fill="#3c3c3c" textLength="5.89" lengthAdjust="spacingAndGlyphs">10</text>
<text x="368.40" y="312.90" font-size="5.8" text-anchor="middle" fill="#333" textLength="2.95" lengthAdjust="spacingAndGlyphs">0</text>
<text x="368.40" y="319.80" font-size="5.8" text-anchor="middle" fill="#333" textLength="2.95" lengthAdjust="spacingAndGlyphs">0</text>
<line x1="368.10" y1="322.80" x2="368.10" y2="325.80" stroke="#3a3a3a" stroke-width="0.9"/>
<text x="368.10" y="332.40" font-size="5.8" text-anchor="middle" fill="#3c3c3c" textLength="5.89" lengthAdjust="spacingAndGlyphs">15</text>
<text x="330.15" y="341.90" font-size="8.2" text-anchor="middle" fill="#333" font-weight="bold" textLength="11.0" lengthAdjust="spacingAndGlyphs">Days</text>
<text x="455.60" y="181.00" font-size="7.4" text-anchor="middle" fill="#222" >Sphingomyelin</text>
<text x="455.00" y="189.00" font-size="7.4" text-anchor="middle" fill="#222" textLength="129" lengthAdjust="spacingAndGlyphs">(d18:2/23:0, d18:1/23:1, d17:1/24:1)*</text>
<line x1="419.60" y1="194.70" x2="419.60" y2="277.50" stroke="#444" stroke-width="1.6"/>
<line x1="419.00" y1="276.90" x2="503.20" y2="276.90" stroke="#3a3a3a" stroke-width="1.3"/>
<line x1="416.40" y1="198.20" x2="419.60" y2="198.20" stroke="#3a3a3a" stroke-width="0.9"/>
<text x="414.90" y="200.00" font-size="5.8" text-anchor="end" fill="#3c3c3c" textLength="10.31" lengthAdjust="spacingAndGlyphs">1.00</text>
<line x1="416.40" y1="217.05" x2="419.60" y2="217.05" stroke="#3a3a3a" stroke-width="0.9"/>
<text x="414.90" y="218.85" font-size="5.8" text-anchor="end" fill="#3c3c3c" textLength="10.31" lengthAdjust="spacingAndGlyphs">0.75</text>
<line x1="416.40" y1="235.90" x2="419.60" y2="235.90" stroke="#3a3a3a" stroke-width="0.9"/>
<text x="414.90" y="237.70" font-size="5.8" text-anchor="end" fill="#3c3c3c" textLength="10.31" lengthAdjust="spacingAndGlyphs">0.50</text>
<line x1="416.40" y1="254.75" x2="419.60" y2="254.75" stroke="#3a3a3a" stroke-width="0.9"/>
<text x="414.90" y="256.55" font-size="5.8" text-anchor="end" fill="#3c3c3c" textLength="10.31" lengthAdjust="spacingAndGlyphs">0.25</text>
<line x1="416.40" y1="273.60" x2="419.60" y2="273.60" stroke="#3a3a3a" stroke-width="0.9"/>
<text x="414.90" y="275.40" font-size="5.8" text-anchor="end" fill="#3c3c3c" textLength="10.31" lengthAdjust="spacingAndGlyphs">0.00</text>
<line x1="424.10" y1="276.90" x2="424.10" y2="279.80" stroke="#3a3a3a" stroke-width="0.9"/>
<text x="424.10" y="286.60" font-size="5.8" text-anchor="middle" fill="#3c3c3c" textLength="2.95" lengthAdjust="spacingAndGlyphs">0</text>
<line x1="449.35" y1="276.90" x2="449.35" y2="279.80" stroke="#3a3a3a" stroke-width="0.9"/>
<text x="449.35" y="286.60" font-size="5.8" text-anchor="middle" fill="#3c3c3c" textLength="2.95" lengthAdjust="spacingAndGlyphs">5</text>
<line x1="474.60" y1="276.90" x2="474.60" y2="279.80" stroke="#3a3a3a" stroke-width="0.9"/>
<text x="474.60" y="286.60" font-size="5.8" text-anchor="middle" fill="#3c3c3c" textLength="5.89" lengthAdjust="spacingAndGlyphs">10</text>
<line x1="499.85" y1="276.90" x2="499.85" y2="279.80" stroke="#3a3a3a" stroke-width="0.9"/>
<text x="499.85" y="286.60" font-size="5.8" text-anchor="middle" fill="#3c3c3c" textLength="5.89" lengthAdjust="spacingAndGlyphs">15</text>
<text x="462.10" y="296.30" font-size="8.2" text-anchor="middle" fill="#333" font-weight="bold" textLength="11.2" lengthAdjust="spacingAndGlyphs">Days</text>
<text transform="translate(400.60,268.70) rotate(-90)" x="0" y="0" font-size="8.7" fill="#333" stroke="#333" stroke-width="0.3" textLength="28.80" lengthAdjust="spacingAndGlyphs">Cummulative</text>
<text transform="translate(400.60,238.30) rotate(-90)" x="0" y="0" font-size="8.7" fill="#333" stroke="#333" stroke-width="0.3" textLength="10.40" lengthAdjust="spacingAndGlyphs">CRS</text>
<text transform="translate(400.60,226.30) rotate(-90)" x="0" y="0" font-size="8.7" fill="#333" stroke="#333" stroke-width="0.3" textLength="23.10" lengthAdjust="spacingAndGlyphs">incidence</text>
<line x1="424.10" y1="235.90" x2="454.40" y2="235.90" stroke="#222" stroke-width="0.8" stroke-dasharray="1.3,1.6"/>
<line x1="454.40" y1="235.90" x2="454.40" y2="273.60" stroke="#c21f4c" stroke-width="0.8" stroke-dasharray="1.3,1.8"/>
<line x1="439.25" y1="235.90" x2="439.25" y2="273.60" stroke="#2e5280" stroke-width="0.8" stroke-dasharray="1.3,1.8"/>
<path d="M424.10,273.60V273.60H429.15V263.04H434.20V251.73H444.30V247.96H449.35V244.19H454.40V231.75H464.50V226.48H494.80" stroke="#c21f4c" stroke-width="1.25" fill="none"/>
<path d="M424.10,273.60V266.06H429.15V248.72H434.20V237.41H439.25V226.85H444.30V223.08H449.35V216.30H454.40V208.76H464.50V203.10H474.60" stroke="#2e5280" stroke-width="1.25" fill="none"/>
<line x1="469.55" y1="225.38" x2="469.55" y2="227.58" stroke="#c21f4c" stroke-width="0.8"/>
<line x1="459.45" y1="207.66" x2="459.45" y2="209.86" stroke="#2e5280" stroke-width="0.8"/>
<text x="474.50" y="268.70" font-size="6.2" text-anchor="start" fill="#333" textLength="25.2" lengthAdjust="spacingAndGlyphs">q = 0.05</text>
<text x="420.60" y="304.60" font-size="6.2" text-anchor="start" fill="#333" textLength="35.63" lengthAdjust="spacingAndGlyphs">Number at risk</text>
<text x="415.10" y="312.90" font-size="5.8" text-anchor="end" fill="#333" textLength="33.88" lengthAdjust="spacingAndGlyphs">Above Median</text>
<text x="415.10" y="319.80" font-size="5.8" text-anchor="end" fill="#333" textLength="33.29" lengthAdjust="spacingAndGlyphs">Below Median</text>
<line x1="419.60" y1="308.00" x2="419.60" y2="323.20" stroke="#3a3a3a" stroke-width="1.2"/>
<line x1="419.00" y1="322.80" x2="503.20" y2="322.80" stroke="#3a3a3a" stroke-width="1.2"/>
<line x1="416.80" y1="311.20" x2="419.60" y2="311.20" stroke="#3a3a3a" stroke-width="0.9"/>
<line x1="416.80" y1="318.10" x2="419.60" y2="318.10" stroke="#3a3a3a" stroke-width="0.9"/>
<text x="424.40" y="312.90" font-size="5.8" text-anchor="middle" fill="#333" textLength="5.89" lengthAdjust="spacingAndGlyphs">20</text>
<text x="424.40" y="319.80" font-size="5.8" text-anchor="middle" fill="#333" textLength="5.89" lengthAdjust="spacingAndGlyphs">21</text>
<line x1="424.10" y1="322.80" x2="424.10" y2="325.80" stroke="#3a3a3a" stroke-width="0.9"/>
<text x="424.10" y="332.40" font-size="5.8" text-anchor="middle" fill="#3c3c3c" textLength="2.95" lengthAdjust="spacingAndGlyphs">0</text>
<text x="449.65" y="312.90" font-size="5.8" text-anchor="middle" fill="#333" textLength="5.89" lengthAdjust="spacingAndGlyphs">13</text>
<text x="449.65" y="319.80" font-size="5.8" text-anchor="middle" fill="#333" textLength="2.95" lengthAdjust="spacingAndGlyphs">7</text>
<line x1="449.35" y1="322.80" x2="449.35" y2="325.80" stroke="#3a3a3a" stroke-width="0.9"/>
<text x="449.35" y="332.40" font-size="5.8" text-anchor="middle" fill="#3c3c3c" textLength="2.95" lengthAdjust="spacingAndGlyphs">5</text>
<text x="474.90" y="312.90" font-size="5.8" text-anchor="middle" fill="#333" textLength="2.95" lengthAdjust="spacingAndGlyphs">3</text>
<text x="474.90" y="319.80" font-size="5.8" text-anchor="middle" fill="#333" textLength="2.95" lengthAdjust="spacingAndGlyphs">1</text>
<line x1="474.60" y1="322.80" x2="474.60" y2="325.80" stroke="#3a3a3a" stroke-width="0.9"/>
<text x="474.60" y="332.40" font-size="5.8" text-anchor="middle" fill="#3c3c3c" textLength="5.89" lengthAdjust="spacingAndGlyphs">10</text>
<text x="500.15" y="312.90" font-size="5.8" text-anchor="middle" fill="#333" textLength="2.95" lengthAdjust="spacingAndGlyphs">0</text>
<text x="500.15" y="319.80" font-size="5.8" text-anchor="middle" fill="#333" textLength="2.95" lengthAdjust="spacingAndGlyphs">0</text>
<line x1="499.85" y1="322.80" x2="499.85" y2="325.80" stroke="#3a3a3a" stroke-width="0.9"/>
<text x="499.85" y="332.40" font-size="5.8" text-anchor="middle" fill="#3c3c3c" textLength="5.89" lengthAdjust="spacingAndGlyphs">15</text>
<text x="461.90" y="341.90" font-size="8.2" text-anchor="middle" fill="#333" font-weight="bold" textLength="11.0" lengthAdjust="spacingAndGlyphs">Days</text>
<text x="198.40" y="358.80" font-size="7.4" text-anchor="middle" fill="#222" >N6−methyladenosine</text>
<line x1="156.00" y1="364.40" x2="156.00" y2="447.80" stroke="#444" stroke-width="1.6"/>
<line x1="155.40" y1="447.20" x2="239.60" y2="447.20" stroke="#3a3a3a" stroke-width="1.3"/>
<line x1="152.80" y1="367.90" x2="156.00" y2="367.90" stroke="#3a3a3a" stroke-width="0.9"/>
<text x="151.30" y="369.70" font-size="5.8" text-anchor="end" fill="#3c3c3c" textLength="10.31" lengthAdjust="spacingAndGlyphs">1.00</text>
<line x1="152.80" y1="386.75" x2="156.00" y2="386.75" stroke="#3a3a3a" stroke-width="0.9"/>
<text x="151.30" y="388.55" font-size="5.8" text-anchor="end" fill="#3c3c3c" textLength="10.31" lengthAdjust="spacingAndGlyphs">0.75</text>
<line x1="152.80" y1="405.60" x2="156.00" y2="405.60" stroke="#3a3a3a" stroke-width="0.9"/>
<text x="151.30" y="407.40" font-size="5.8" text-anchor="end" fill="#3c3c3c" textLength="10.31" lengthAdjust="spacingAndGlyphs">0.50</text>
<line x1="152.80" y1="424.45" x2="156.00" y2="424.45" stroke="#3a3a3a" stroke-width="0.9"/>
<text x="151.30" y="426.25" font-size="5.8" text-anchor="end" fill="#3c3c3c" textLength="10.31" lengthAdjust="spacingAndGlyphs">0.25</text>
<line x1="152.80" y1="443.30" x2="156.00" y2="443.30" stroke="#3a3a3a" stroke-width="0.9"/>
<text x="151.30" y="445.10" font-size="5.8" text-anchor="end" fill="#3c3c3c" textLength="10.31" lengthAdjust="spacingAndGlyphs">0.00</text>
<line x1="160.50" y1="447.20" x2="160.50" y2="450.10" stroke="#3a3a3a" stroke-width="0.9"/>
<text x="160.50" y="456.90" font-size="5.8" text-anchor="middle" fill="#3c3c3c" textLength="2.95" lengthAdjust="spacingAndGlyphs">0</text>
<line x1="185.75" y1="447.20" x2="185.75" y2="450.10" stroke="#3a3a3a" stroke-width="0.9"/>
<text x="185.75" y="456.90" font-size="5.8" text-anchor="middle" fill="#3c3c3c" textLength="2.95" lengthAdjust="spacingAndGlyphs">5</text>
<line x1="211.00" y1="447.20" x2="211.00" y2="450.10" stroke="#3a3a3a" stroke-width="0.9"/>
<text x="211.00" y="456.90" font-size="5.8" text-anchor="middle" fill="#3c3c3c" textLength="5.89" lengthAdjust="spacingAndGlyphs">10</text>
<line x1="236.25" y1="447.20" x2="236.25" y2="450.10" stroke="#3a3a3a" stroke-width="0.9"/>
<text x="236.25" y="456.90" font-size="5.8" text-anchor="middle" fill="#3c3c3c" textLength="5.89" lengthAdjust="spacingAndGlyphs">15</text>
<text x="198.50" y="466.60" font-size="8.2" text-anchor="middle" fill="#333" font-weight="bold" textLength="11.2" lengthAdjust="spacingAndGlyphs">Days</text>
<text transform="translate(137.00,438.40) rotate(-90)" x="0" y="0" font-size="8.7" fill="#333" stroke="#333" stroke-width="0.3" textLength="28.80" lengthAdjust="spacingAndGlyphs">Cummulative</text>
<text transform="translate(137.00,408.00) rotate(-90)" x="0" y="0" font-size="8.7" fill="#333" stroke="#333" stroke-width="0.3" textLength="10.40" lengthAdjust="spacingAndGlyphs">CRS</text>
<text transform="translate(137.00,396.00) rotate(-90)" x="0" y="0" font-size="8.7" fill="#333" stroke="#333" stroke-width="0.3" textLength="23.10" lengthAdjust="spacingAndGlyphs">incidence</text>
<line x1="160.50" y1="405.60" x2="188.28" y2="405.60" stroke="#222" stroke-width="0.8" stroke-dasharray="1.3,1.6"/>
<line x1="188.28" y1="405.60" x2="188.28" y2="443.30" stroke="#c21f4c" stroke-width="0.8" stroke-dasharray="1.3,1.8"/>
<line x1="180.70" y1="405.60" x2="180.70" y2="443.30" stroke="#2e5280" stroke-width="0.8" stroke-dasharray="1.3,1.8"/>
<path d="M160.50,443.30V443.30H165.55V425.20H170.60V417.29H175.65V408.99H185.75V405.60H190.80V401.83H200.90V390.52H231.20" stroke="#c21f4c" stroke-width="1.25" fill="none"/>
<path d="M160.50,443.30V435.76H165.55V425.20H170.60V410.88H175.65V407.26H180.70V400.32H185.75V392.78H190.80V378.46H231.20" stroke="#2e5280" stroke-width="1.25" fill="none"/>
<line x1="211.00" y1="389.42" x2="211.00" y2="391.62" stroke="#c21f4c" stroke-width="0.8"/>
<line x1="195.85" y1="377.36" x2="195.85" y2="379.56" stroke="#2e5280" stroke-width="0.8"/>
<line x1="205.95" y1="377.36" x2="205.95" y2="379.56" stroke="#2e5280" stroke-width="0.8"/>
<text x="210.90" y="438.40" font-size="6.2" text-anchor="start" fill="#333" textLength="25.2" lengthAdjust="spacingAndGlyphs">q = 0.08</text>
<text x="157.00" y="475.90" font-size="6.4" text-anchor="start" fill="#333" textLength="40.18" lengthAdjust="spacingAndGlyphs">Number at risk</text>
<text x="151.50" y="482.90" font-size="5.8" text-anchor="end" fill="#333" textLength="33.88" lengthAdjust="spacingAndGlyphs">Above Median</text>
<text x="151.50" y="489.80" font-size="5.8" text-anchor="end" fill="#333" textLength="33.29" lengthAdjust="spacingAndGlyphs">Below Median</text>
<line x1="156.00" y1="478.00" x2="156.00" y2="493.20" stroke="#3a3a3a" stroke-width="1.2"/>
<line x1="155.40" y1="492.80" x2="239.60" y2="492.80" stroke="#3a3a3a" stroke-width="1.2"/>
<line x1="153.20" y1="481.20" x2="156.00" y2="481.20" stroke="#3a3a3a" stroke-width="0.9"/>
<line x1="153.20" y1="488.10" x2="156.00" y2="488.10" stroke="#3a3a3a" stroke-width="0.9"/>
<text x="160.80" y="482.90" font-size="5.8" text-anchor="middle" fill="#333" textLength="5.89" lengthAdjust="spacingAndGlyphs">20</text>
<text x="160.80" y="489.80" font-size="5.8" text-anchor="middle" fill="#333" textLength="5.89" lengthAdjust="spacingAndGlyphs">21</text>
<line x1="160.50" y1="492.80" x2="160.50" y2="495.80" stroke="#3a3a3a" stroke-width="0.9"/>
<text x="160.50" y="503.30" font-size="5.8" text-anchor="middle" fill="#3c3c3c" textLength="2.95" lengthAdjust="spacingAndGlyphs">0</text>
<text x="186.05" y="482.90" font-size="5.8" text-anchor="middle" fill="#333" textLength="5.50" lengthAdjust="spacingAndGlyphs">11</text>
<text x="186.05" y="489.80" font-size="5.8" text-anchor="middle" fill="#333" textLength="2.95" lengthAdjust="spacingAndGlyphs">9</text>
<line x1="185.75" y1="492.80" x2="185.75" y2="495.80" stroke="#3a3a3a" stroke-width="0.9"/>
<text x="185.75" y="503.30" font-size="5.8" text-anchor="middle" fill="#3c3c3c" textLength="2.95" lengthAdjust="spacingAndGlyphs">5</text>
<text x="211.30" y="482.90" font-size="5.8" text-anchor="middle" fill="#333" textLength="2.95" lengthAdjust="spacingAndGlyphs">3</text>
<text x="211.30" y="489.80" font-size="5.8" text-anchor="middle" fill="#333" textLength="2.95" lengthAdjust="spacingAndGlyphs">1</text>
<line x1="211.00" y1="492.80" x2="211.00" y2="495.80" stroke="#3a3a3a" stroke-width="0.9"/>
<text x="211.00" y="503.30" font-size="5.8" text-anchor="middle" fill="#3c3c3c" textLength="5.89" lengthAdjust="spacingAndGlyphs">10</text>
<text x="236.55" y="482.90" font-size="5.8" text-anchor="middle" fill="#333" textLength="2.95" lengthAdjust="spacingAndGlyphs">0</text>
<text x="236.55" y="489.80" font-size="5.8" text-anchor="middle" fill="#333" textLength="2.95" lengthAdjust="spacingAndGlyphs">0</text>
<line x1="236.25" y1="492.80" x2="236.25" y2="495.80" stroke="#3a3a3a" stroke-width="0.9"/>
<text x="236.25" y="503.30" font-size="5.8" text-anchor="middle" fill="#3c3c3c" textLength="5.89" lengthAdjust="spacingAndGlyphs">15</text>
<text x="198.30" y="512.80" font-size="8.2" text-anchor="middle" fill="#333" font-weight="bold" textLength="11.0" lengthAdjust="spacingAndGlyphs">Days</text>
<text x="330.25" y="360.20" font-size="7.4" text-anchor="middle" fill="#222" >Glutamate</text>
<line x1="287.85" y1="364.40" x2="287.85" y2="447.80" stroke="#444" stroke-width="1.6"/>
<line x1="287.25" y1="447.20" x2="371.45" y2="447.20" stroke="#3a3a3a" stroke-width="1.3"/>
<line x1="284.65" y1="367.90" x2="287.85" y2="367.90" stroke="#3a3a3a" stroke-width="0.9"/>
<text x="283.15" y="369.70" font-size="5.8" text-anchor="end" fill="#3c3c3c" textLength="10.31" lengthAdjust="spacingAndGlyphs">1.00</text>
<line x1="284.65" y1="386.75" x2="287.85" y2="386.75" stroke="#3a3a3a" stroke-width="0.9"/>
<text x="283.15" y="388.55" font-size="5.8" text-anchor="end" fill="#3c3c3c" textLength="10.31" lengthAdjust="spacingAndGlyphs">0.75</text>
<line x1="284.65" y1="405.60" x2="287.85" y2="405.60" stroke="#3a3a3a" stroke-width="0.9"/>
<text x="283.15" y="407.40" font-size="5.8" text-anchor="end" fill="#3c3c3c" textLength="10.31" lengthAdjust="spacingAndGlyphs">0.50</text>
<line x1="284.65" y1="424.45" x2="287.85" y2="424.45" stroke="#3a3a3a" stroke-width="0.9"/>
<text x="283.15" y="426.25" font-size="5.8" text-anchor="end" fill="#3c3c3c" textLength="10.31" lengthAdjust="spacingAndGlyphs">0.25</text>
<line x1="284.65" y1="443.30" x2="287.85" y2="443.30" stroke="#3a3a3a" stroke-width="0.9"/>
<text x="283.15" y="445.10" font-size="5.8" text-anchor="end" fill="#3c3c3c" textLength="10.31" lengthAdjust="spacingAndGlyphs">0.00</text>
<line x1="292.35" y1="447.20" x2="292.35" y2="450.10" stroke="#3a3a3a" stroke-width="0.9"/>
<text x="292.35" y="456.90" font-size="5.8" text-anchor="middle" fill="#3c3c3c" textLength="2.95" lengthAdjust="spacingAndGlyphs">0</text>
<line x1="317.60" y1="447.20" x2="317.60" y2="450.10" stroke="#3a3a3a" stroke-width="0.9"/>
<text x="317.60" y="456.90" font-size="5.8" text-anchor="middle" fill="#3c3c3c" textLength="2.95" lengthAdjust="spacingAndGlyphs">5</text>
<line x1="342.85" y1="447.20" x2="342.85" y2="450.10" stroke="#3a3a3a" stroke-width="0.9"/>
<text x="342.85" y="456.90" font-size="5.8" text-anchor="middle" fill="#3c3c3c" textLength="5.89" lengthAdjust="spacingAndGlyphs">10</text>
<line x1="368.10" y1="447.20" x2="368.10" y2="450.10" stroke="#3a3a3a" stroke-width="0.9"/>
<text x="368.10" y="456.90" font-size="5.8" text-anchor="middle" fill="#3c3c3c" textLength="5.89" lengthAdjust="spacingAndGlyphs">15</text>
<text x="330.35" y="466.60" font-size="8.2" text-anchor="middle" fill="#333" font-weight="bold" textLength="11.2" lengthAdjust="spacingAndGlyphs">Days</text>
<text transform="translate(268.85,438.40) rotate(-90)" x="0" y="0" font-size="8.7" fill="#333" stroke="#333" stroke-width="0.3" textLength="28.80" lengthAdjust="spacingAndGlyphs">Cummulative</text>
<text transform="translate(268.85,408.00) rotate(-90)" x="0" y="0" font-size="8.7" fill="#333" stroke="#333" stroke-width="0.3" textLength="10.40" lengthAdjust="spacingAndGlyphs">CRS</text>
<text transform="translate(268.85,396.00) rotate(-90)" x="0" y="0" font-size="8.7" fill="#333" stroke="#333" stroke-width="0.3" textLength="23.10" lengthAdjust="spacingAndGlyphs">incidence</text>
<line x1="292.35" y1="405.60" x2="320.12" y2="405.60" stroke="#222" stroke-width="0.8" stroke-dasharray="1.3,1.6"/>
<line x1="320.12" y1="405.60" x2="320.12" y2="443.30" stroke="#c21f4c" stroke-width="0.8" stroke-dasharray="1.3,1.8"/>
<line x1="307.50" y1="405.60" x2="307.50" y2="443.30" stroke="#2e5280" stroke-width="0.8" stroke-dasharray="1.3,1.8"/>
<path d="M292.35,443.30V443.30H297.40V435.76H302.45V421.06H307.50V413.14H317.60V405.60H322.65V398.06H332.75V392.03H363.05" stroke="#c21f4c" stroke-width="1.25" fill="none"/>
<path d="M292.35,443.30V435.76H297.40V414.65H302.45V407.11H307.50V403.64H312.55V396.33H317.60V392.78H322.65V382.23H332.75V377.40H363.05" stroke="#2e5280" stroke-width="1.25" fill="none"/>
<line x1="342.85" y1="390.93" x2="342.85" y2="393.13" stroke="#c21f4c" stroke-width="0.8"/>
<line x1="327.70" y1="381.13" x2="327.70" y2="383.33" stroke="#2e5280" stroke-width="0.8"/>
<line x1="337.80" y1="376.30" x2="337.80" y2="378.50" stroke="#2e5280" stroke-width="0.8"/>
<text x="342.75" y="438.40" font-size="6.2" text-anchor="start" fill="#333" textLength="25.2" lengthAdjust="spacingAndGlyphs">q = 0.08</text>
<text x="288.85" y="475.90" font-size="6.4" text-anchor="start" fill="#333" textLength="40.18" lengthAdjust="spacingAndGlyphs">Number at risk</text>
<text x="283.35" y="482.90" font-size="5.8" text-anchor="end" fill="#333" textLength="33.88" lengthAdjust="spacingAndGlyphs">Above Median</text>
<text x="283.35" y="489.80" font-size="5.8" text-anchor="end" fill="#333" textLength="33.29" lengthAdjust="spacingAndGlyphs">Below Median</text>
<line x1="287.85" y1="478.00" x2="287.85" y2="493.20" stroke="#3a3a3a" stroke-width="1.2"/>
<line x1="287.25" y1="492.80" x2="371.45" y2="492.80" stroke="#3a3a3a" stroke-width="1.2"/>
<line x1="285.05" y1="481.20" x2="287.85" y2="481.20" stroke="#3a3a3a" stroke-width="0.9"/>
<line x1="285.05" y1="488.10" x2="287.85" y2="488.10" stroke="#3a3a3a" stroke-width="0.9"/>
<text x="292.65" y="482.90" font-size="5.8" text-anchor="middle" fill="#333" textLength="5.89" lengthAdjust="spacingAndGlyphs">20</text>
<text x="292.65" y="489.80" font-size="5.8" text-anchor="middle" fill="#333" textLength="5.89" lengthAdjust="spacingAndGlyphs">21</text>
<line x1="292.35" y1="492.80" x2="292.35" y2="495.80" stroke="#3a3a3a" stroke-width="0.9"/>
<text x="292.35" y="503.30" font-size="5.8" text-anchor="middle" fill="#3c3c3c" textLength="2.95" lengthAdjust="spacingAndGlyphs">0</text>
<text x="317.90" y="482.90" font-size="5.8" text-anchor="middle" fill="#333" textLength="5.89" lengthAdjust="spacingAndGlyphs">12</text>
<text x="317.90" y="489.80" font-size="5.8" text-anchor="middle" fill="#333" textLength="2.95" lengthAdjust="spacingAndGlyphs">8</text>
<line x1="317.60" y1="492.80" x2="317.60" y2="495.80" stroke="#3a3a3a" stroke-width="0.9"/>
<text x="317.60" y="503.30" font-size="5.8" text-anchor="middle" fill="#3c3c3c" textLength="2.95" lengthAdjust="spacingAndGlyphs">5</text>
<text x="343.15" y="482.90" font-size="5.8" text-anchor="middle" fill="#333" textLength="2.95" lengthAdjust="spacingAndGlyphs">3</text>
<text x="343.15" y="489.80" font-size="5.8" text-anchor="middle" fill="#333" textLength="2.95" lengthAdjust="spacingAndGlyphs">1</text>
<line x1="342.85" y1="492.80" x2="342.85" y2="495.80" stroke="#3a3a3a" stroke-width="0.9"/>
<text x="342.85" y="503.30" font-size="5.8" text-anchor="middle" fill="#3c3c3c" textLength="5.89" lengthAdjust="spacingAndGlyphs">10</text>
<text x="368.40" y="482.90" font-size="5.8" text-anchor="middle" fill="#333" textLength="2.95" lengthAdjust="spacingAndGlyphs">0</text>
<text x="368.40" y="489.80" font-size="5.8" text-anchor="middle" fill="#333" textLength="2.95" lengthAdjust="spacingAndGlyphs">0</text>
<line x1="368.10" y1="492.80" x2="368.10" y2="495.80" stroke="#3a3a3a" stroke-width="0.9"/>
<text x="368.10" y="503.30" font-size="5.8" text-anchor="middle" fill="#3c3c3c" textLength="5.89" lengthAdjust="spacingAndGlyphs">15</text>
<text x="330.15" y="512.80" font-size="8.2" text-anchor="middle" fill="#333" font-weight="bold" textLength="11.0" lengthAdjust="spacingAndGlyphs">Days</text>
<text x="462.00" y="358.80" font-size="7.4" text-anchor="middle" fill="#222" >Glycine</text>
<line x1="419.60" y1="364.40" x2="419.60" y2="447.80" stroke="#444" stroke-width="1.6"/>
<line x1="419.00" y1="447.20" x2="503.20" y2="447.20" stroke="#3a3a3a" stroke-width="1.3"/>
<line x1="416.40" y1="367.90" x2="419.60" y2="367.90" stroke="#3a3a3a" stroke-width="0.9"/>
<text x="414.90" y="369.70" font-size="5.8" text-anchor="end" fill="#3c3c3c" textLength="10.31" lengthAdjust="spacingAndGlyphs">1.00</text>
<line x1="416.40" y1="386.75" x2="419.60" y2="386.75" stroke="#3a3a3a" stroke-width="0.9"/>
<text x="414.90" y="388.55" font-size="5.8" text-anchor="end" fill="#3c3c3c" textLength="10.31" lengthAdjust="spacingAndGlyphs">0.75</text>
<line x1="416.40" y1="405.60" x2="419.60" y2="405.60" stroke="#3a3a3a" stroke-width="0.9"/>
<text x="414.90" y="407.40" font-size="5.8" text-anchor="end" fill="#3c3c3c" textLength="10.31" lengthAdjust="spacingAndGlyphs">0.50</text>
<line x1="416.40" y1="424.45" x2="419.60" y2="424.45" stroke="#3a3a3a" stroke-width="0.9"/>
<text x="414.90" y="426.25" font-size="5.8" text-anchor="end" fill="#3c3c3c" textLength="10.31" lengthAdjust="spacingAndGlyphs">0.25</text>
<line x1="416.40" y1="443.30" x2="419.60" y2="443.30" stroke="#3a3a3a" stroke-width="0.9"/>
<text x="414.90" y="445.10" font-size="5.8" text-anchor="end" fill="#3c3c3c" textLength="10.31" lengthAdjust="spacingAndGlyphs">0.00</text>
<line x1="424.10" y1="447.20" x2="424.10" y2="450.10" stroke="#3a3a3a" stroke-width="0.9"/>
<text x="424.10" y="456.90" font-size="5.8" text-anchor="middle" fill="#3c3c3c" textLength="2.95" lengthAdjust="spacingAndGlyphs">0</text>
<line x1="449.35" y1="447.20" x2="449.35" y2="450.10" stroke="#3a3a3a" stroke-width="0.9"/>
<text x="449.35" y="456.90" font-size="5.8" text-anchor="middle" fill="#3c3c3c" textLength="2.95" lengthAdjust="spacingAndGlyphs">5</text>
<line x1="474.60" y1="447.20" x2="474.60" y2="450.10" stroke="#3a3a3a" stroke-width="0.9"/>
<text x="474.60" y="456.90" font-size="5.8" text-anchor="middle" fill="#3c3c3c" textLength="5.89" lengthAdjust="spacingAndGlyphs">10</text>
<line x1="499.85" y1="447.20" x2="499.85" y2="450.10" stroke="#3a3a3a" stroke-width="0.9"/>
<text x="499.85" y="456.90" font-size="5.8" text-anchor="middle" fill="#3c3c3c" textLength="5.89" lengthAdjust="spacingAndGlyphs">15</text>
<text x="462.10" y="466.60" font-size="8.2" text-anchor="middle" fill="#333" font-weight="bold" textLength="11.2" lengthAdjust="spacingAndGlyphs">Days</text>
<text transform="translate(400.60,438.40) rotate(-90)" x="0" y="0" font-size="8.7" fill="#333" stroke="#333" stroke-width="0.3" textLength="28.80" lengthAdjust="spacingAndGlyphs">Cummulative</text>
<text transform="translate(400.60,408.00) rotate(-90)" x="0" y="0" font-size="8.7" fill="#333" stroke="#333" stroke-width="0.3" textLength="10.40" lengthAdjust="spacingAndGlyphs">CRS</text>
<text transform="translate(400.60,396.00) rotate(-90)" x="0" y="0" font-size="8.7" fill="#333" stroke="#333" stroke-width="0.3" textLength="23.10" lengthAdjust="spacingAndGlyphs">incidence</text>
<line x1="424.10" y1="405.60" x2="454.40" y2="405.60" stroke="#222" stroke-width="0.8" stroke-dasharray="1.3,1.6"/>
<line x1="454.40" y1="405.60" x2="454.40" y2="443.30" stroke="#c21f4c" stroke-width="0.8" stroke-dasharray="1.3,1.8"/>
<line x1="439.25" y1="405.60" x2="439.25" y2="443.30" stroke="#2e5280" stroke-width="0.8" stroke-dasharray="1.3,1.8"/>
<path d="M424.10,443.30V443.30H429.15V432.44H434.20V420.91H444.30V417.21H449.35V413.37H454.40V398.06H464.50V392.03H494.80" stroke="#c21f4c" stroke-width="1.25" fill="none"/>
<path d="M424.10,443.30V435.76H429.15V417.97H434.20V407.11H439.25V396.33H444.30V392.78H449.35V385.69H454.40V382.23H464.50V377.40H494.80" stroke="#2e5280" stroke-width="1.25" fill="none"/>
<line x1="474.60" y1="390.93" x2="474.60" y2="393.13" stroke="#c21f4c" stroke-width="0.8"/>
<line x1="459.45" y1="381.13" x2="459.45" y2="383.33" stroke="#2e5280" stroke-width="0.8"/>
<text x="474.50" y="438.40" font-size="6.2" text-anchor="start" fill="#333" textLength="25.2" lengthAdjust="spacingAndGlyphs">q = 0.06</text>
<text x="420.60" y="475.90" font-size="6.4" text-anchor="start" fill="#333" textLength="40.18" lengthAdjust="spacingAndGlyphs">Number at risk</text>
<text x="415.10" y="482.90" font-size="5.8" text-anchor="end" fill="#333" textLength="33.88" lengthAdjust="spacingAndGlyphs">Above Median</text>
<text x="415.10" y="489.80" font-size="5.8" text-anchor="end" fill="#333" textLength="33.29" lengthAdjust="spacingAndGlyphs">Below Median</text>
<line x1="419.60" y1="478.00" x2="419.60" y2="493.20" stroke="#3a3a3a" stroke-width="1.2"/>
<line x1="419.00" y1="492.80" x2="503.20" y2="492.80" stroke="#3a3a3a" stroke-width="1.2"/>
<line x1="416.80" y1="481.20" x2="419.60" y2="481.20" stroke="#3a3a3a" stroke-width="0.9"/>
<line x1="416.80" y1="488.10" x2="419.60" y2="488.10" stroke="#3a3a3a" stroke-width="0.9"/>
<text x="424.40" y="482.90" font-size="5.8" text-anchor="middle" fill="#333" textLength="5.89" lengthAdjust="spacingAndGlyphs">20</text>
<text x="424.40" y="489.80" font-size="5.8" text-anchor="middle" fill="#333" textLength="5.89" lengthAdjust="spacingAndGlyphs">21</text>
<line x1="424.10" y1="492.80" x2="424.10" y2="495.80" stroke="#3a3a3a" stroke-width="0.9"/>
<text x="424.10" y="503.30" font-size="5.8" text-anchor="middle" fill="#3c3c3c" textLength="2.95" lengthAdjust="spacingAndGlyphs">0</text>
<text x="449.65" y="482.90" font-size="5.8" text-anchor="middle" fill="#333" textLength="5.89" lengthAdjust="spacingAndGlyphs">13</text>
<text x="449.65" y="489.80" font-size="5.8" text-anchor="middle" fill="#333" textLength="2.95" lengthAdjust="spacingAndGlyphs">7</text>
<line x1="449.35" y1="492.80" x2="449.35" y2="495.80" stroke="#3a3a3a" stroke-width="0.9"/>
<text x="449.35" y="503.30" font-size="5.8" text-anchor="middle" fill="#3c3c3c" textLength="2.95" lengthAdjust="spacingAndGlyphs">5</text>
<text x="474.90" y="482.90" font-size="5.8" text-anchor="middle" fill="#333" textLength="2.95" lengthAdjust="spacingAndGlyphs">2</text>
<text x="474.90" y="489.80" font-size="5.8" text-anchor="middle" fill="#333" textLength="2.95" lengthAdjust="spacingAndGlyphs">2</text>
<line x1="474.60" y1="492.80" x2="474.60" y2="495.80" stroke="#3a3a3a" stroke-width="0.9"/>
<text x="474.60" y="503.30" font-size="5.8" text-anchor="middle" fill="#3c3c3c" textLength="5.89" lengthAdjust="spacingAndGlyphs">10</text>
<text x="500.15" y="482.90" font-size="5.8" text-anchor="middle" fill="#333" textLength="2.95" lengthAdjust="spacingAndGlyphs">0</text>
<text x="500.15" y="489.80" font-size="5.8" text-anchor="middle" fill="#333" textLength="2.95" lengthAdjust="spacingAndGlyphs">0</text>
<line x1="499.85" y1="492.80" x2="499.85" y2="495.80" stroke="#3a3a3a" stroke-width="0.9"/>
<text x="499.85" y="503.30" font-size="5.8" text-anchor="middle" fill="#3c3c3c" textLength="5.89" lengthAdjust="spacingAndGlyphs">15</text>
<text x="461.90" y="512.80" font-size="8.2" text-anchor="middle" fill="#333" font-weight="bold" textLength="11.0" lengthAdjust="spacingAndGlyphs">Days</text>
<line x1="220" y1="524.5" x2="232.5" y2="524.5" stroke="#c21f4c" stroke-width="1.5"/>
<line x1="220" y1="536.1" x2="232.5" y2="536.1" stroke="#c21f4c" stroke-width="0.9" stroke-dasharray="1.2,1.6"/>
<text x="236.30" y="527.20" font-size="5.8" text-anchor="start" fill="#333" textLength="87.80" lengthAdjust="spacingAndGlyphs">Above Median Metabolite Abundance</text>
<text x="236.30" y="538.40" font-size="5.8" text-anchor="start" fill="#333" textLength="65.09" lengthAdjust="spacingAndGlyphs">Median CRS Time-to-Onset</text>
<line x1="336.2" y1="524.5" x2="348.7" y2="524.5" stroke="#2e5280" stroke-width="1.5"/>
<line x1="336.2" y1="536.1" x2="348.7" y2="536.1" stroke="#2e5280" stroke-width="0.9" stroke-dasharray="1.2,1.6"/>
<text x="352.00" y="527.20" font-size="5.8" text-anchor="start" fill="#333" textLength="87.21" lengthAdjust="spacingAndGlyphs">Below Median Metabolite Abundance</text>
<text x="352.00" y="538.40" font-size="5.8" text-anchor="start" fill="#333" textLength="65.09" lengthAdjust="spacingAndGlyphs">Median CRS Time-to-Onset</text>
</svg></body></html>
